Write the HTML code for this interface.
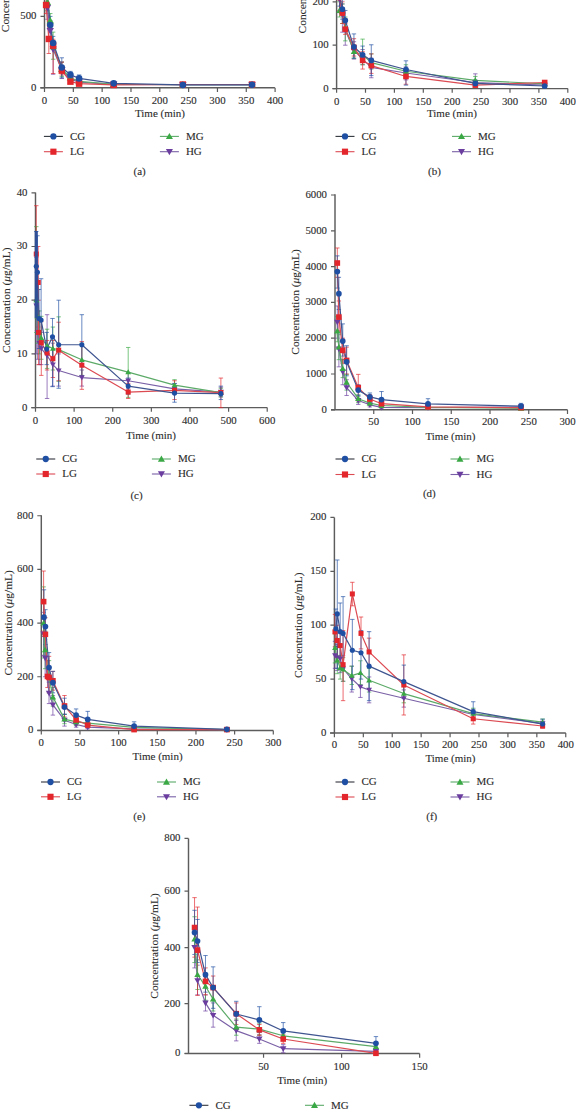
<!DOCTYPE html>
<html><head><meta charset="utf-8"><style>
html,body{margin:0;padding:0;background:#fff;}
svg{display:block;}
</style></head><body>
<svg width="576" height="1109" viewBox="0 0 576 1109">
<rect width="576" height="1109" fill="#fff"/>
<path d="M44.5 -10V87.8M40.3 87.8H274.9" stroke="#5c5c5c" stroke-width="1.45" fill="none"/>
<path d="M40.5 87.8H44.5 M40.5 16.4H44.5 M44.5 87.8V92 M73.33 87.8V92 M102.15 87.8V92 M130.98 87.8V92 M159.8 87.8V92 M188.62 87.8V92 M217.45 87.8V92 M246.28 87.8V92 M275.1 87.8V92" stroke="#5c5c5c" stroke-width="1.2" fill="none"/>
<g style="font-family:'Liberation Serif',serif;stroke:#333;stroke-width:0.12px;font-size:10.8px" fill="#2b2b2b"><text x="36.5" y="90.7" text-anchor="end">0</text><text x="36.5" y="19.3" text-anchor="end">500</text><text x="44.5" y="104.1" text-anchor="middle">0</text><text x="73.33" y="104.1" text-anchor="middle">50</text><text x="102.15" y="104.1" text-anchor="middle">100</text><text x="130.98" y="104.1" text-anchor="middle">150</text><text x="159.8" y="104.1" text-anchor="middle">200</text><text x="188.62" y="104.1" text-anchor="middle">250</text><text x="217.45" y="104.1" text-anchor="middle">300</text><text x="246.28" y="104.1" text-anchor="middle">350</text><text x="275.1" y="104.1" text-anchor="middle">400</text></g>
<g><path d="M47.38 -3.59V19.26M45.18 -3.59H49.58M45.18 19.26H49.58" stroke="#6a3d9f" stroke-width="0.9" fill="none" opacity="0.75"/><path d="M50.27 20.68V40.68M48.06 20.68H52.47M48.06 40.68H52.47" stroke="#6a3d9f" stroke-width="0.9" fill="none" opacity="0.75"/><path d="M53.15 40.68V74.23M50.95 40.68H55.35M50.95 74.23H55.35" stroke="#6a3d9f" stroke-width="0.9" fill="none" opacity="0.75"/><path d="M61.8 62.1V78.52M59.59 62.1H64M59.59 78.52H64" stroke="#6a3d9f" stroke-width="0.9" fill="none" opacity="0.75"/><path d="M70.44 76.38V81.37M68.24 76.38H72.64M68.24 81.37H72.64" stroke="#6a3d9f" stroke-width="0.9" fill="none" opacity="0.75"/><path d="M79.09 79.95V83.52M76.89 79.95H81.29M76.89 83.52H81.29" stroke="#6a3d9f" stroke-width="0.9" fill="none" opacity="0.75"/><path d="M113.68 83.52V85.23M111.48 83.52H115.88M111.48 85.23H115.88" stroke="#6a3d9f" stroke-width="0.9" fill="none" opacity="0.75"/><path d="M182.86 83.8V85.52M180.66 83.8H185.06M180.66 85.52H185.06" stroke="#6a3d9f" stroke-width="0.9" fill="none" opacity="0.75"/><path d="M252.04 83.8V85.52M249.84 83.8H254.24M249.84 85.52H254.24" stroke="#6a3d9f" stroke-width="0.9" fill="none" opacity="0.75"/><path d="M47.38 -6.45V10.69M45.18 -6.45H49.58M45.18 10.69H49.58" stroke="#3aa845" stroke-width="0.9" fill="none" opacity="0.75"/><path d="M50.27 13.54V27.82M48.06 13.54H52.47M48.06 27.82H52.47" stroke="#3aa845" stroke-width="0.9" fill="none" opacity="0.75"/><path d="M53.15 32.11V59.24M50.95 32.11H55.35M50.95 59.24H55.35" stroke="#3aa845" stroke-width="0.9" fill="none" opacity="0.75"/><path d="M61.8 62.1V76.38M59.59 62.1H64M59.59 76.38H64" stroke="#3aa845" stroke-width="0.9" fill="none" opacity="0.75"/><path d="M70.44 74.95V80.66M68.24 74.95H72.64M68.24 80.66H72.64" stroke="#3aa845" stroke-width="0.9" fill="none" opacity="0.75"/><path d="M79.09 79.23V82.8M76.89 79.23H81.29M76.89 82.8H81.29" stroke="#3aa845" stroke-width="0.9" fill="none" opacity="0.75"/><path d="M113.68 83.23V85.23M111.48 83.23H115.88M111.48 85.23H115.88" stroke="#3aa845" stroke-width="0.9" fill="none" opacity="0.75"/><path d="M182.86 83.8V85.52M180.66 83.8H185.06M180.66 85.52H185.06" stroke="#3aa845" stroke-width="0.9" fill="none" opacity="0.75"/><path d="M252.04 83.8V85.52M249.84 83.8H254.24M249.84 85.52H254.24" stroke="#3aa845" stroke-width="0.9" fill="none" opacity="0.75"/><path d="M46.11 -3.59V13.54M43.91 -3.59H48.31M43.91 13.54H48.31" stroke="#e3262b" stroke-width="0.9" fill="none" opacity="0.75"/><path d="M48.82 24.97V53.53M46.62 24.97H51.02M46.62 53.53H51.02" stroke="#e3262b" stroke-width="0.9" fill="none" opacity="0.75"/><path d="M53.15 39.25V73.52M50.95 39.25H55.35M50.95 73.52H55.35" stroke="#e3262b" stroke-width="0.9" fill="none" opacity="0.75"/><path d="M61.8 62.1V74.95M59.59 62.1H64M59.59 74.95H64" stroke="#e3262b" stroke-width="0.9" fill="none" opacity="0.75"/><path d="M70.44 79.23V83.52M68.24 79.23H72.64M68.24 83.52H72.64" stroke="#e3262b" stroke-width="0.9" fill="none" opacity="0.75"/><path d="M79.09 82.09V84.94M76.89 82.09H81.29M76.89 84.94H81.29" stroke="#e3262b" stroke-width="0.9" fill="none" opacity="0.75"/><path d="M113.68 84.09V85.66M111.48 84.09H115.88M111.48 85.66H115.88" stroke="#e3262b" stroke-width="0.9" fill="none" opacity="0.75"/><path d="M182.86 83.8V85.23M180.66 83.8H185.06M180.66 85.23H185.06" stroke="#e3262b" stroke-width="0.9" fill="none" opacity="0.75"/><path d="M252.04 83.8V85.23M249.84 83.8H254.24M249.84 85.23H254.24" stroke="#e3262b" stroke-width="0.9" fill="none" opacity="0.75"/><path d="M47.38 -15.02V4.98M45.18 -15.02H49.58M45.18 4.98H49.58" stroke="#1f4fa3" stroke-width="0.9" fill="none" opacity="0.75"/><path d="M50.27 16.4V32.11M48.06 16.4H52.47M48.06 32.11H52.47" stroke="#1f4fa3" stroke-width="0.9" fill="none" opacity="0.75"/><path d="M53.15 36.39V49.24M50.95 36.39H55.35M50.95 49.24H55.35" stroke="#1f4fa3" stroke-width="0.9" fill="none" opacity="0.75"/><path d="M61.8 57.81V77.8M59.59 57.81H64M59.59 77.8H64" stroke="#1f4fa3" stroke-width="0.9" fill="none" opacity="0.75"/><path d="M70.44 71.38V77.09M68.24 71.38H72.64M68.24 77.09H72.64" stroke="#1f4fa3" stroke-width="0.9" fill="none" opacity="0.75"/><path d="M79.09 74.95V80.66M76.89 74.95H81.29M76.89 80.66H81.29" stroke="#1f4fa3" stroke-width="0.9" fill="none" opacity="0.75"/><path d="M113.68 81.8V84.94M111.48 81.8H115.88M111.48 84.94H115.88" stroke="#1f4fa3" stroke-width="0.9" fill="none" opacity="0.75"/><path d="M182.86 83.8V85.8M180.66 83.8H185.06M180.66 85.8H185.06" stroke="#1f4fa3" stroke-width="0.9" fill="none" opacity="0.75"/><path d="M252.04 83.94V85.66M249.84 83.94H254.24M249.84 85.66H254.24" stroke="#1f4fa3" stroke-width="0.9" fill="none" opacity="0.75"/><path d="M47.38 7.83 L50.27 30.68 L53.15 49.24 L61.8 69.95 L70.44 79.23 L79.09 82.09 L113.68 84.37 L182.86 84.66 L252.04 84.66" stroke="#7a60a6" stroke-width="1.2" fill="none" stroke-linejoin="round"/><path d="M47.38 2.12 L50.27 20.68 L53.15 46.39 L61.8 69.24 L70.44 77.8 L79.09 81.37 L113.68 84.23 L182.86 84.66 L252.04 84.66" stroke="#5caa68" stroke-width="1.2" fill="none" stroke-linejoin="round"/><path d="M46.11 4.98 L48.82 38.96 L53.15 45.67 L61.8 70.66 L70.44 81.66 L79.09 83.66 L113.68 84.94 L182.86 84.52 L252.04 84.52" stroke="#dc4a52" stroke-width="1.2" fill="none" stroke-linejoin="round"/><path d="M47.38 -5.02 L50.27 24.97 L53.15 42.96 L61.8 67.52 L70.44 74.81 L79.09 78.38 L113.68 83.37 L182.86 84.94 L252.04 84.8" stroke="#3f5590" stroke-width="1.2" fill="none" stroke-linejoin="round"/><path d="M47.38 11.51L51.06 5.07L43.7 5.07Z" fill="#6a3d9f"/><path d="M50.27 34.36L53.95 27.92L46.59 27.92Z" fill="#6a3d9f"/><path d="M53.15 52.92L56.83 46.48L49.47 46.48Z" fill="#6a3d9f"/><path d="M61.8 73.63L65.47 67.19L58.12 67.19Z" fill="#6a3d9f"/><path d="M70.44 82.91L74.12 76.47L66.76 76.47Z" fill="#6a3d9f"/><path d="M79.09 85.77L82.77 79.33L75.41 79.33Z" fill="#6a3d9f"/><path d="M113.68 88.05L117.36 81.61L110 81.61Z" fill="#6a3d9f"/><path d="M182.86 88.34L186.54 81.9L179.18 81.9Z" fill="#6a3d9f"/><path d="M252.04 88.34L255.72 81.9L248.36 81.9Z" fill="#6a3d9f"/><path d="M47.38 -1.56L51.06 4.88L43.7 4.88Z" fill="#3aa845"/><path d="M50.27 17L53.95 23.44L46.59 23.44Z" fill="#3aa845"/><path d="M53.15 42.71L56.83 49.15L49.47 49.15Z" fill="#3aa845"/><path d="M61.8 65.56L65.47 72L58.12 72Z" fill="#3aa845"/><path d="M70.44 74.12L74.12 80.56L66.76 80.56Z" fill="#3aa845"/><path d="M79.09 77.69L82.77 84.13L75.41 84.13Z" fill="#3aa845"/><path d="M113.68 80.55L117.36 86.99L110 86.99Z" fill="#3aa845"/><path d="M182.86 80.98L186.54 87.42L179.18 87.42Z" fill="#3aa845"/><path d="M252.04 80.98L255.72 87.42L248.36 87.42Z" fill="#3aa845"/><rect x="42.89" y="1.76" width="6.44" height="6.44" fill="#e3262b"/><rect x="45.6" y="35.74" width="6.44" height="6.44" fill="#e3262b"/><rect x="49.93" y="42.45" width="6.44" height="6.44" fill="#e3262b"/><rect x="58.58" y="67.44" width="6.44" height="6.44" fill="#e3262b"/><rect x="67.22" y="78.44" width="6.44" height="6.44" fill="#e3262b"/><rect x="75.87" y="80.44" width="6.44" height="6.44" fill="#e3262b"/><rect x="110.46" y="81.72" width="6.44" height="6.44" fill="#e3262b"/><rect x="179.64" y="81.3" width="6.44" height="6.44" fill="#e3262b"/><rect x="248.82" y="81.3" width="6.44" height="6.44" fill="#e3262b"/><circle cx="47.38" cy="-5.02" r="3.28" fill="#1f4fa3"/><circle cx="50.27" cy="24.97" r="3.28" fill="#1f4fa3"/><circle cx="53.15" cy="42.96" r="3.28" fill="#1f4fa3"/><circle cx="61.8" cy="67.52" r="3.28" fill="#1f4fa3"/><circle cx="70.44" cy="74.81" r="3.28" fill="#1f4fa3"/><circle cx="79.09" cy="78.38" r="3.28" fill="#1f4fa3"/><circle cx="113.68" cy="83.37" r="3.28" fill="#1f4fa3"/><circle cx="182.86" cy="84.94" r="3.28" fill="#1f4fa3"/><circle cx="252.04" cy="84.8" r="3.28" fill="#1f4fa3"/></g>
<text x="160" y="117.4" text-anchor="middle" style="font-family:'Liberation Serif',serif;stroke:#333;stroke-width:0.12px;font-size:11px" fill="#2b2b2b">Time (min)</text>
<text transform="translate(8.6,-20.5) rotate(-90)" text-anchor="middle" style="font-family:'Liberation Serif',serif;stroke:#333;stroke-width:0.12px;font-size:11.4px" fill="#2b2b2b">Concentration (<tspan style="font-style:italic">μ</tspan>g/mL)</text>
<path d="M43.9 136.4H62.9" stroke="#30343c" stroke-width="1.1"/>
<circle cx="53.4" cy="136.4" r="3.14" fill="#1f4fa3"/>
<text x="69.9" y="139.6" style="font-family:'Liberation Serif',serif;stroke:#333;stroke-width:0.12px;font-size:11px" fill="#2b2b2b">CG</text>
<path d="M43.9 151.7H62.9" stroke="#dc4a52" stroke-width="1.1"/>
<rect x="50.32" y="148.62" width="6.16" height="6.16" fill="#e3262b"/>
<text x="69.9" y="154.9" style="font-family:'Liberation Serif',serif;stroke:#333;stroke-width:0.12px;font-size:11px" fill="#2b2b2b">LG</text>
<path d="M159.9 136.4H178.9" stroke="#5caa68" stroke-width="1.1"/>
<path d="M169.4 132.88L172.92 139.04L165.88 139.04Z" fill="#3aa845"/>
<text x="185.9" y="139.6" style="font-family:'Liberation Serif',serif;stroke:#333;stroke-width:0.12px;font-size:11px" fill="#2b2b2b">MG</text>
<path d="M159.9 151.7H178.9" stroke="#7a60a6" stroke-width="1.1"/>
<path d="M169.4 155.22L172.92 149.06L165.88 149.06Z" fill="#6a3d9f"/>
<text x="185.9" y="154.9" style="font-family:'Liberation Serif',serif;stroke:#333;stroke-width:0.12px;font-size:11px" fill="#2b2b2b">HG</text>
<text x="139.7" y="174.5" text-anchor="middle" style="font-family:'Liberation Serif',serif;stroke:#333;stroke-width:0.12px;font-size:11px" fill="#2b2b2b">(a)</text>
<path d="M336.6 -10V88.6M332.4 88.6H567.9" stroke="#5c5c5c" stroke-width="1.45" fill="none"/>
<path d="M332.6 88.6H336.6 M332.6 45.2H336.6 M332.6 1.8H336.6 M336.6 88.6V92.8 M365.5 88.6V92.8 M394.4 88.6V92.8 M423.3 88.6V92.8 M452.2 88.6V92.8 M481.1 88.6V92.8 M510 88.6V92.8 M538.9 88.6V92.8 M567.8 88.6V92.8" stroke="#5c5c5c" stroke-width="1.2" fill="none"/>
<g style="font-family:'Liberation Serif',serif;stroke:#333;stroke-width:0.12px;font-size:10.8px" fill="#2b2b2b"><text x="328.6" y="91.5" text-anchor="end">0</text><text x="328.6" y="48.1" text-anchor="end">100</text><text x="328.6" y="4.7" text-anchor="end">200</text><text x="336.6" y="104.5" text-anchor="middle">0</text><text x="365.5" y="104.5" text-anchor="middle">50</text><text x="394.4" y="104.5" text-anchor="middle">100</text><text x="423.3" y="104.5" text-anchor="middle">150</text><text x="452.2" y="104.5" text-anchor="middle">200</text><text x="481.1" y="104.5" text-anchor="middle">250</text><text x="510" y="104.5" text-anchor="middle">300</text><text x="538.9" y="104.5" text-anchor="middle">350</text><text x="567.8" y="104.5" text-anchor="middle">400</text></g>
<g><path d="M339.49 -13.39V12.65M337.29 -13.39H341.69M337.29 12.65H341.69" stroke="#6a3d9f" stroke-width="0.9" fill="none" opacity="0.75"/><path d="M342.38 3.97V32.18M340.18 3.97H344.58M340.18 32.18H344.58" stroke="#6a3d9f" stroke-width="0.9" fill="none" opacity="0.75"/><path d="M345.27 19.16V45.2M343.07 19.16H347.47M343.07 45.2H347.47" stroke="#6a3d9f" stroke-width="0.9" fill="none" opacity="0.75"/><path d="M353.94 41.73V59.09M351.74 41.73H356.14M351.74 59.09H356.14" stroke="#6a3d9f" stroke-width="0.9" fill="none" opacity="0.75"/><path d="M362.61 49.54V64.73M360.41 49.54H364.81M360.41 64.73H364.81" stroke="#6a3d9f" stroke-width="0.9" fill="none" opacity="0.75"/><path d="M371.28 58.22V77.75M369.08 58.22H373.48M369.08 77.75H373.48" stroke="#6a3d9f" stroke-width="0.9" fill="none" opacity="0.75"/><path d="M405.96 66.9V79.92M403.76 66.9H408.16M403.76 79.92H408.16" stroke="#6a3d9f" stroke-width="0.9" fill="none" opacity="0.75"/><path d="M475.32 73.84V86.43M473.12 73.84H477.52M473.12 86.43H477.52" stroke="#6a3d9f" stroke-width="0.9" fill="none" opacity="0.75"/><path d="M544.68 83.39V86.43M542.48 83.39H546.88M542.48 86.43H546.88" stroke="#6a3d9f" stroke-width="0.9" fill="none" opacity="0.75"/><path d="M339.49 1.8V16.99M337.29 1.8H341.69M337.29 16.99H341.69" stroke="#3aa845" stroke-width="0.9" fill="none" opacity="0.75"/><path d="M342.38 3.97V23.5M340.18 3.97H344.58M340.18 23.5H344.58" stroke="#3aa845" stroke-width="0.9" fill="none" opacity="0.75"/><path d="M345.27 16.99V40.86M343.07 16.99H347.47M343.07 40.86H347.47" stroke="#3aa845" stroke-width="0.9" fill="none" opacity="0.75"/><path d="M353.94 45.2V58.22M351.74 45.2H356.14M351.74 58.22H356.14" stroke="#3aa845" stroke-width="0.9" fill="none" opacity="0.75"/><path d="M362.61 39.12V64.73M360.41 39.12H364.81M360.41 64.73H364.81" stroke="#3aa845" stroke-width="0.9" fill="none" opacity="0.75"/><path d="M371.28 53.88V69.07M369.08 53.88H373.48M369.08 69.07H373.48" stroke="#3aa845" stroke-width="0.9" fill="none" opacity="0.75"/><path d="M405.96 64.73V77.75M403.76 64.73H408.16M403.76 77.75H408.16" stroke="#3aa845" stroke-width="0.9" fill="none" opacity="0.75"/><path d="M475.32 76.45V84.26M473.12 76.45H477.52M473.12 84.26H477.52" stroke="#3aa845" stroke-width="0.9" fill="none" opacity="0.75"/><path d="M544.68 82.09V85.56M542.48 82.09H546.88M542.48 85.56H546.88" stroke="#3aa845" stroke-width="0.9" fill="none" opacity="0.75"/><path d="M339.49 -13.39V10.48M337.29 -13.39H341.69M337.29 10.48H341.69" stroke="#e3262b" stroke-width="0.9" fill="none" opacity="0.75"/><path d="M342.38 1.8V23.5M340.18 1.8H344.58M340.18 23.5H344.58" stroke="#e3262b" stroke-width="0.9" fill="none" opacity="0.75"/><path d="M345.27 23.5V34.35M343.07 23.5H347.47M343.07 34.35H347.47" stroke="#e3262b" stroke-width="0.9" fill="none" opacity="0.75"/><path d="M353.94 38.69V56.05M351.74 38.69H356.14M351.74 56.05H356.14" stroke="#e3262b" stroke-width="0.9" fill="none" opacity="0.75"/><path d="M362.61 51.71V69.07M360.41 51.71H364.81M360.41 69.07H364.81" stroke="#e3262b" stroke-width="0.9" fill="none" opacity="0.75"/><path d="M371.28 53.88V73.41M369.08 53.88H373.48M369.08 73.41H373.48" stroke="#e3262b" stroke-width="0.9" fill="none" opacity="0.75"/><path d="M405.96 69.07V84.26M403.76 69.07H408.16M403.76 84.26H408.16" stroke="#e3262b" stroke-width="0.9" fill="none" opacity="0.75"/><path d="M475.32 82.52V86.86M473.12 82.52H477.52M473.12 86.86H477.52" stroke="#e3262b" stroke-width="0.9" fill="none" opacity="0.75"/><path d="M544.68 80.79V84.69M542.48 80.79H546.88M542.48 84.69H546.88" stroke="#e3262b" stroke-width="0.9" fill="none" opacity="0.75"/><path d="M339.49 -15.56V6.14M337.29 -15.56H341.69M337.29 6.14H341.69" stroke="#1f4fa3" stroke-width="0.9" fill="none" opacity="0.75"/><path d="M342.38 -0.37V19.16M340.18 -0.37H344.58M340.18 19.16H344.58" stroke="#1f4fa3" stroke-width="0.9" fill="none" opacity="0.75"/><path d="M345.27 10.48V30.01M343.07 10.48H347.47M343.07 30.01H347.47" stroke="#1f4fa3" stroke-width="0.9" fill="none" opacity="0.75"/><path d="M353.94 33.92V58.22M351.74 33.92H356.14M351.74 58.22H356.14" stroke="#1f4fa3" stroke-width="0.9" fill="none" opacity="0.75"/><path d="M362.61 46.07V62.56M360.41 46.07H364.81M360.41 62.56H364.81" stroke="#1f4fa3" stroke-width="0.9" fill="none" opacity="0.75"/><path d="M371.28 44.77V75.58M369.08 44.77H373.48M369.08 75.58H373.48" stroke="#1f4fa3" stroke-width="0.9" fill="none" opacity="0.75"/><path d="M405.96 60.82V85.13M403.76 60.82H408.16M403.76 85.13H408.16" stroke="#1f4fa3" stroke-width="0.9" fill="none" opacity="0.75"/><path d="M475.32 79.92V86.43M473.12 79.92H477.52M473.12 86.43H477.52" stroke="#1f4fa3" stroke-width="0.9" fill="none" opacity="0.75"/><path d="M544.68 84.26V87.3M542.48 84.26H546.88M542.48 87.3H546.88" stroke="#1f4fa3" stroke-width="0.9" fill="none" opacity="0.75"/><path d="M339.49 -0.37 L342.38 14.82 L345.27 30.01 L353.94 50.41 L362.61 59.09 L371.28 67.33 L405.96 72.98 L475.32 82.52 L544.68 85.13" stroke="#7a60a6" stroke-width="1.2" fill="none" stroke-linejoin="round"/><path d="M339.49 10.48 L342.38 11.35 L345.27 27.84 L353.94 51.71 L362.61 54.75 L371.28 62.56 L405.96 71.24 L475.32 80.35 L544.68 83.83" stroke="#5caa68" stroke-width="1.2" fill="none" stroke-linejoin="round"/><path d="M339.49 -2.54 L342.38 13.08 L345.27 29.14 L353.94 47.37 L362.61 60.39 L371.28 65.6 L405.96 76.45 L475.32 85.13 L544.68 82.52" stroke="#dc4a52" stroke-width="1.2" fill="none" stroke-linejoin="round"/><path d="M339.49 -4.71 L342.38 9.18 L345.27 20.46 L353.94 46.94 L362.61 54.75 L371.28 60.39 L405.96 69.5 L475.32 83.39 L544.68 86" stroke="#3f5590" stroke-width="1.2" fill="none" stroke-linejoin="round"/><path d="M339.49 2.83L342.69 -2.77L336.29 -2.77Z" fill="#6a3d9f"/><path d="M342.38 18.02L345.58 12.42L339.18 12.42Z" fill="#6a3d9f"/><path d="M345.27 33.21L348.47 27.61L342.07 27.61Z" fill="#6a3d9f"/><path d="M353.94 53.61L357.14 48.01L350.74 48.01Z" fill="#6a3d9f"/><path d="M362.61 62.29L365.81 56.69L359.41 56.69Z" fill="#6a3d9f"/><path d="M371.28 70.53L374.48 64.93L368.08 64.93Z" fill="#6a3d9f"/><path d="M405.96 76.18L409.16 70.58L402.76 70.58Z" fill="#6a3d9f"/><path d="M475.32 85.72L478.52 80.12L472.12 80.12Z" fill="#6a3d9f"/><path d="M544.68 88.33L547.88 82.73L541.48 82.73Z" fill="#6a3d9f"/><path d="M339.49 7.28L342.69 12.88L336.29 12.88Z" fill="#3aa845"/><path d="M342.38 8.15L345.58 13.75L339.18 13.75Z" fill="#3aa845"/><path d="M345.27 24.64L348.47 30.24L342.07 30.24Z" fill="#3aa845"/><path d="M353.94 48.51L357.14 54.11L350.74 54.11Z" fill="#3aa845"/><path d="M362.61 51.55L365.81 57.15L359.41 57.15Z" fill="#3aa845"/><path d="M371.28 59.36L374.48 64.96L368.08 64.96Z" fill="#3aa845"/><path d="M405.96 68.04L409.16 73.64L402.76 73.64Z" fill="#3aa845"/><path d="M475.32 77.15L478.52 82.75L472.12 82.75Z" fill="#3aa845"/><path d="M544.68 80.63L547.88 86.23L541.48 86.23Z" fill="#3aa845"/><rect x="336.69" y="-5.34" width="5.6" height="5.6" fill="#e3262b"/><rect x="339.58" y="10.28" width="5.6" height="5.6" fill="#e3262b"/><rect x="342.47" y="26.34" width="5.6" height="5.6" fill="#e3262b"/><rect x="351.14" y="44.57" width="5.6" height="5.6" fill="#e3262b"/><rect x="359.81" y="57.59" width="5.6" height="5.6" fill="#e3262b"/><rect x="368.48" y="62.8" width="5.6" height="5.6" fill="#e3262b"/><rect x="403.16" y="73.65" width="5.6" height="5.6" fill="#e3262b"/><rect x="472.52" y="82.33" width="5.6" height="5.6" fill="#e3262b"/><rect x="541.88" y="79.72" width="5.6" height="5.6" fill="#e3262b"/><circle cx="339.49" cy="-4.71" r="2.85" fill="#1f4fa3"/><circle cx="342.38" cy="9.18" r="2.85" fill="#1f4fa3"/><circle cx="345.27" cy="20.46" r="2.85" fill="#1f4fa3"/><circle cx="353.94" cy="46.94" r="2.85" fill="#1f4fa3"/><circle cx="362.61" cy="54.75" r="2.85" fill="#1f4fa3"/><circle cx="371.28" cy="60.39" r="2.85" fill="#1f4fa3"/><circle cx="405.96" cy="69.5" r="2.85" fill="#1f4fa3"/><circle cx="475.32" cy="83.39" r="2.85" fill="#1f4fa3"/><circle cx="544.68" cy="86" r="2.85" fill="#1f4fa3"/></g>
<text x="452" y="117.4" text-anchor="middle" style="font-family:'Liberation Serif',serif;stroke:#333;stroke-width:0.12px;font-size:11px" fill="#2b2b2b">Time (min)</text>
<text transform="translate(305.6,-19.3) rotate(-90)" text-anchor="middle" style="font-family:'Liberation Serif',serif;stroke:#333;stroke-width:0.12px;font-size:11.4px" fill="#2b2b2b">Concentration (<tspan style="font-style:italic">μ</tspan>g/mL)</text>
<path d="M335.5 136.4H354.5" stroke="#30343c" stroke-width="1.1"/>
<circle cx="345" cy="136.4" r="3.14" fill="#1f4fa3"/>
<text x="361.5" y="139.6" style="font-family:'Liberation Serif',serif;stroke:#333;stroke-width:0.12px;font-size:11px" fill="#2b2b2b">CG</text>
<path d="M335.5 151.7H354.5" stroke="#dc4a52" stroke-width="1.1"/>
<rect x="341.92" y="148.62" width="6.16" height="6.16" fill="#e3262b"/>
<text x="361.5" y="154.9" style="font-family:'Liberation Serif',serif;stroke:#333;stroke-width:0.12px;font-size:11px" fill="#2b2b2b">LG</text>
<path d="M452 136.4H471" stroke="#5caa68" stroke-width="1.1"/>
<path d="M461.5 132.88L465.02 139.04L457.98 139.04Z" fill="#3aa845"/>
<text x="478" y="139.6" style="font-family:'Liberation Serif',serif;stroke:#333;stroke-width:0.12px;font-size:11px" fill="#2b2b2b">MG</text>
<path d="M452 151.7H471" stroke="#7a60a6" stroke-width="1.1"/>
<path d="M461.5 155.22L465.02 149.06L457.98 149.06Z" fill="#6a3d9f"/>
<text x="478" y="154.9" style="font-family:'Liberation Serif',serif;stroke:#333;stroke-width:0.12px;font-size:11px" fill="#2b2b2b">HG</text>
<text x="434.5" y="174.5" text-anchor="middle" style="font-family:'Liberation Serif',serif;stroke:#333;stroke-width:0.12px;font-size:11px" fill="#2b2b2b">(b)</text>
<path d="M35.5 192.5V407.6M31.3 407.6H267.2" stroke="#5c5c5c" stroke-width="1.45" fill="none"/>
<path d="M31.5 407.6H35.5 M31.5 353.9H35.5 M31.5 300.2H35.5 M31.5 246.5H35.5 M31.5 192.8H35.5 M35.5 407.6V411.8 M74.12 407.6V411.8 M112.74 407.6V411.8 M151.36 407.6V411.8 M189.98 407.6V411.8 M228.6 407.6V411.8 M267.22 407.6V411.8" stroke="#5c5c5c" stroke-width="1.2" fill="none"/>
<g style="font-family:'Liberation Serif',serif;stroke:#333;stroke-width:0.12px;font-size:10.8px" fill="#2b2b2b"><text x="27.5" y="410.5" text-anchor="end">0</text><text x="27.5" y="356.8" text-anchor="end">10</text><text x="27.5" y="303.1" text-anchor="end">20</text><text x="27.5" y="249.4" text-anchor="end">30</text><text x="27.5" y="195.7" text-anchor="end">40</text><text x="35.5" y="423.5" text-anchor="middle">0</text><text x="74.12" y="423.5" text-anchor="middle">100</text><text x="112.74" y="423.5" text-anchor="middle">200</text><text x="151.36" y="423.5" text-anchor="middle">300</text><text x="189.98" y="423.5" text-anchor="middle">400</text><text x="228.6" y="423.5" text-anchor="middle">500</text><text x="267.22" y="423.5" text-anchor="middle">600</text></g>
<g><path d="M36.27 257.24V353.9M34.07 257.24H38.47M34.07 353.9H38.47" stroke="#6a3d9f" stroke-width="0.9" fill="none" opacity="0.75"/><path d="M37.43 310.94V359.27M35.23 310.94H39.63M35.23 359.27H39.63" stroke="#6a3d9f" stroke-width="0.9" fill="none" opacity="0.75"/><path d="M39.36 321.68V364.64M37.16 321.68H41.56M37.16 364.64H41.56" stroke="#6a3d9f" stroke-width="0.9" fill="none" opacity="0.75"/><path d="M41.29 332.42V364.64M39.09 332.42H43.49M39.09 364.64H43.49" stroke="#6a3d9f" stroke-width="0.9" fill="none" opacity="0.75"/><path d="M47.09 314.7V398.47M44.89 314.7H49.29M44.89 398.47H49.29" stroke="#6a3d9f" stroke-width="0.9" fill="none" opacity="0.75"/><path d="M52.88 343.16V386.12M50.68 343.16H55.08M50.68 386.12H55.08" stroke="#6a3d9f" stroke-width="0.9" fill="none" opacity="0.75"/><path d="M58.67 353.9V386.12M56.47 353.9H60.87M56.47 386.12H60.87" stroke="#6a3d9f" stroke-width="0.9" fill="none" opacity="0.75"/><path d="M81.84 370.01V386.12M79.64 370.01H84.04M79.64 386.12H84.04" stroke="#6a3d9f" stroke-width="0.9" fill="none" opacity="0.75"/><path d="M128.19 372.7V388.81M125.99 372.7H130.39M125.99 388.81H130.39" stroke="#6a3d9f" stroke-width="0.9" fill="none" opacity="0.75"/><path d="M174.53 383.44V394.18M172.33 383.44H176.73M172.33 394.18H176.73" stroke="#6a3d9f" stroke-width="0.9" fill="none" opacity="0.75"/><path d="M220.88 387.19V396.86M218.68 387.19H223.08M218.68 396.86H223.08" stroke="#6a3d9f" stroke-width="0.9" fill="none" opacity="0.75"/><path d="M36.27 226.63V332.42M34.07 226.63H38.47M34.07 332.42H38.47" stroke="#3aa845" stroke-width="0.9" fill="none" opacity="0.75"/><path d="M37.43 289.46V343.16M35.23 289.46H39.63M35.23 343.16H39.63" stroke="#3aa845" stroke-width="0.9" fill="none" opacity="0.75"/><path d="M39.36 310.94V353.9M37.16 310.94H41.56M37.16 353.9H41.56" stroke="#3aa845" stroke-width="0.9" fill="none" opacity="0.75"/><path d="M41.29 316.31V359.27M39.09 316.31H43.49M39.09 359.27H43.49" stroke="#3aa845" stroke-width="0.9" fill="none" opacity="0.75"/><path d="M47.09 329.2V368.4M44.89 329.2H49.29M44.89 368.4H49.29" stroke="#3aa845" stroke-width="0.9" fill="none" opacity="0.75"/><path d="M52.88 327.05V370.01M50.68 327.05H55.08M50.68 370.01H55.08" stroke="#3aa845" stroke-width="0.9" fill="none" opacity="0.75"/><path d="M58.67 316.85V381.29M56.47 316.85H60.87M56.47 381.29H60.87" stroke="#3aa845" stroke-width="0.9" fill="none" opacity="0.75"/><path d="M81.84 343.16V375.38M79.64 343.16H84.04M79.64 375.38H84.04" stroke="#3aa845" stroke-width="0.9" fill="none" opacity="0.75"/><path d="M128.19 347.46V397.4M125.99 347.46H130.39M125.99 397.4H130.39" stroke="#3aa845" stroke-width="0.9" fill="none" opacity="0.75"/><path d="M174.53 379.68V391.49M172.33 379.68H176.73M172.33 391.49H176.73" stroke="#3aa845" stroke-width="0.9" fill="none" opacity="0.75"/><path d="M220.88 388.27V396.86M218.68 388.27H223.08M218.68 396.86H223.08" stroke="#3aa845" stroke-width="0.9" fill="none" opacity="0.75"/><path d="M36.27 205.69V300.2M34.07 205.69H38.47M34.07 300.2H38.47" stroke="#e3262b" stroke-width="0.9" fill="none" opacity="0.75"/><path d="M38.2 246.5V327.05M36 246.5H40.4M36 327.05H40.4" stroke="#e3262b" stroke-width="0.9" fill="none" opacity="0.75"/><path d="M38.59 300.2V364.64M36.39 300.2H40.79M36.39 364.64H40.79" stroke="#e3262b" stroke-width="0.9" fill="none" opacity="0.75"/><path d="M41.29 321.68V375.38M39.09 321.68H43.49M39.09 375.38H43.49" stroke="#e3262b" stroke-width="0.9" fill="none" opacity="0.75"/><path d="M47.09 340.48V370.01M44.89 340.48H49.29M44.89 370.01H49.29" stroke="#e3262b" stroke-width="0.9" fill="none" opacity="0.75"/><path d="M52.88 340.48V377.53M50.68 340.48H55.08M50.68 377.53H55.08" stroke="#e3262b" stroke-width="0.9" fill="none" opacity="0.75"/><path d="M58.67 322.22V380.75M56.47 322.22H60.87M56.47 380.75H60.87" stroke="#e3262b" stroke-width="0.9" fill="none" opacity="0.75"/><path d="M81.84 341.55V389.34M79.64 341.55H84.04M79.64 389.34H84.04" stroke="#e3262b" stroke-width="0.9" fill="none" opacity="0.75"/><path d="M128.19 383.44V398.47M125.99 383.44H130.39M125.99 398.47H130.39" stroke="#e3262b" stroke-width="0.9" fill="none" opacity="0.75"/><path d="M174.53 380.75V399.55M172.33 380.75H176.73M172.33 399.55H176.73" stroke="#e3262b" stroke-width="0.9" fill="none" opacity="0.75"/><path d="M220.88 378.06V407.6M218.68 378.06H223.08M218.68 407.6H223.08" stroke="#e3262b" stroke-width="0.9" fill="none" opacity="0.75"/><path d="M36.27 231.46V300.2M34.07 231.46H38.47M34.07 300.2H38.47" stroke="#1f4fa3" stroke-width="0.9" fill="none" opacity="0.75"/><path d="M37.43 235.76V310.94M35.23 235.76H39.63M35.23 310.94H39.63" stroke="#1f4fa3" stroke-width="0.9" fill="none" opacity="0.75"/><path d="M38.98 289.46V348.53M36.78 289.46H41.18M36.78 348.53H41.18" stroke="#1f4fa3" stroke-width="0.9" fill="none" opacity="0.75"/><path d="M41.1 278.72V343.16M38.9 278.72H43.3M38.9 343.16H43.3" stroke="#1f4fa3" stroke-width="0.9" fill="none" opacity="0.75"/><path d="M46.7 332.42V364.64M44.5 332.42H48.9M44.5 364.64H48.9" stroke="#1f4fa3" stroke-width="0.9" fill="none" opacity="0.75"/><path d="M52.49 318.46V386.66M50.29 318.46H54.69M50.29 386.66H54.69" stroke="#1f4fa3" stroke-width="0.9" fill="none" opacity="0.75"/><path d="M58.67 300.2V388.27M56.47 300.2H60.87M56.47 388.27H60.87" stroke="#1f4fa3" stroke-width="0.9" fill="none" opacity="0.75"/><path d="M81.84 314.7V375.92M79.64 314.7H84.04M79.64 375.92H84.04" stroke="#1f4fa3" stroke-width="0.9" fill="none" opacity="0.75"/><path d="M128.19 378.06V394.18M125.99 378.06H130.39M125.99 394.18H130.39" stroke="#1f4fa3" stroke-width="0.9" fill="none" opacity="0.75"/><path d="M174.53 383.44V402.23M172.33 383.44H176.73M172.33 402.23H176.73" stroke="#1f4fa3" stroke-width="0.9" fill="none" opacity="0.75"/><path d="M220.88 386.12V399.55M218.68 386.12H223.08M218.68 399.55H223.08" stroke="#1f4fa3" stroke-width="0.9" fill="none" opacity="0.75"/><path d="M36.27 305.57 L37.43 332.42 L39.36 343.16 L41.29 348.53 L47.09 355.51 L52.88 364.64 L58.67 370.55 L81.84 377.53 L128.19 380.75 L174.53 388.81 L220.88 392.03" stroke="#7a60a6" stroke-width="1.2" fill="none" stroke-linejoin="round"/><path d="M36.27 300.2 L37.43 316.31 L39.36 332.42 L41.29 337.79 L47.09 345.85 L52.88 348.53 L58.67 349.6 L81.84 359.81 L128.19 372.16 L174.53 385.05 L220.88 392.56" stroke="#5caa68" stroke-width="1.2" fill="none" stroke-linejoin="round"/><path d="M36.27 254.02 L38.2 282.48 L38.59 332.42 L41.29 342.62 L47.09 352.83 L52.88 358.73 L58.67 350.14 L81.84 365.18 L128.19 392.03 L174.53 390.42 L220.88 392.56" stroke="#dc4a52" stroke-width="1.2" fill="none" stroke-linejoin="round"/><path d="M36.27 266.37 L37.43 272.28 L38.98 318.46 L41.1 320.07 L46.7 349.07 L52.49 336.72 L58.67 344.77 L81.84 344.77 L128.19 386.12 L174.53 393.1 L220.88 393.64" stroke="#3f5590" stroke-width="1.2" fill="none" stroke-linejoin="round"/><path d="M36.27 308.45L39.15 303.41L33.39 303.41Z" fill="#6a3d9f"/><path d="M37.43 335.3L40.31 330.26L34.55 330.26Z" fill="#6a3d9f"/><path d="M39.36 346.04L42.24 341L36.48 341Z" fill="#6a3d9f"/><path d="M41.29 351.41L44.17 346.37L38.41 346.37Z" fill="#6a3d9f"/><path d="M47.09 358.39L49.97 353.35L44.21 353.35Z" fill="#6a3d9f"/><path d="M52.88 367.52L55.76 362.48L50 362.48Z" fill="#6a3d9f"/><path d="M58.67 373.43L61.55 368.39L55.79 368.39Z" fill="#6a3d9f"/><path d="M81.84 380.41L84.72 375.37L78.96 375.37Z" fill="#6a3d9f"/><path d="M128.19 383.63L131.07 378.59L125.31 378.59Z" fill="#6a3d9f"/><path d="M174.53 391.69L177.41 386.64L171.65 386.64Z" fill="#6a3d9f"/><path d="M220.88 394.91L223.76 389.87L218 389.87Z" fill="#6a3d9f"/><path d="M36.27 297.32L39.15 302.36L33.39 302.36Z" fill="#3aa845"/><path d="M37.43 313.43L40.31 318.47L34.55 318.47Z" fill="#3aa845"/><path d="M39.36 329.54L42.24 334.58L36.48 334.58Z" fill="#3aa845"/><path d="M41.29 334.91L44.17 339.95L38.41 339.95Z" fill="#3aa845"/><path d="M47.09 342.97L49.97 348.01L44.21 348.01Z" fill="#3aa845"/><path d="M52.88 345.65L55.76 350.69L50 350.69Z" fill="#3aa845"/><path d="M58.67 346.72L61.55 351.76L55.79 351.76Z" fill="#3aa845"/><path d="M81.84 356.93L84.72 361.97L78.96 361.97Z" fill="#3aa845"/><path d="M128.19 369.28L131.07 374.32L125.31 374.32Z" fill="#3aa845"/><path d="M174.53 382.17L177.41 387.21L171.65 387.21Z" fill="#3aa845"/><path d="M220.88 389.68L223.76 394.72L218 394.72Z" fill="#3aa845"/><rect x="33.75" y="251.5" width="5.04" height="5.04" fill="#e3262b"/><rect x="35.68" y="279.96" width="5.04" height="5.04" fill="#e3262b"/><rect x="36.07" y="329.9" width="5.04" height="5.04" fill="#e3262b"/><rect x="38.77" y="340.1" width="5.04" height="5.04" fill="#e3262b"/><rect x="44.57" y="350.31" width="5.04" height="5.04" fill="#e3262b"/><rect x="50.36" y="356.21" width="5.04" height="5.04" fill="#e3262b"/><rect x="56.15" y="347.62" width="5.04" height="5.04" fill="#e3262b"/><rect x="79.32" y="362.66" width="5.04" height="5.04" fill="#e3262b"/><rect x="125.67" y="389.51" width="5.04" height="5.04" fill="#e3262b"/><rect x="172.01" y="387.9" width="5.04" height="5.04" fill="#e3262b"/><rect x="218.36" y="390.04" width="5.04" height="5.04" fill="#e3262b"/><circle cx="36.27" cy="266.37" r="2.56" fill="#1f4fa3"/><circle cx="37.43" cy="272.28" r="2.56" fill="#1f4fa3"/><circle cx="38.98" cy="318.46" r="2.56" fill="#1f4fa3"/><circle cx="41.1" cy="320.07" r="2.56" fill="#1f4fa3"/><circle cx="46.7" cy="349.07" r="2.56" fill="#1f4fa3"/><circle cx="52.49" cy="336.72" r="2.56" fill="#1f4fa3"/><circle cx="58.67" cy="344.77" r="2.56" fill="#1f4fa3"/><circle cx="81.84" cy="344.77" r="2.56" fill="#1f4fa3"/><circle cx="128.19" cy="386.12" r="2.56" fill="#1f4fa3"/><circle cx="174.53" cy="393.1" r="2.56" fill="#1f4fa3"/><circle cx="220.88" cy="393.64" r="2.56" fill="#1f4fa3"/></g>
<path d="M36.3 231V318" stroke="#2a4e9a" stroke-width="3.2" opacity="0.9"/>
<text x="151" y="438.5" text-anchor="middle" style="font-family:'Liberation Serif',serif;stroke:#333;stroke-width:0.12px;font-size:11px" fill="#2b2b2b">Time (min)</text>
<text transform="translate(10,300.2) rotate(-90)" text-anchor="middle" style="font-family:'Liberation Serif',serif;stroke:#333;stroke-width:0.12px;font-size:11.4px" fill="#2b2b2b">Concentration (<tspan style="font-style:italic">μ</tspan>g/mL)</text>
<path d="M36.25 459H55.25" stroke="#30343c" stroke-width="1.1"/>
<circle cx="45.75" cy="459" r="3.14" fill="#1f4fa3"/>
<text x="62.25" y="462.2" style="font-family:'Liberation Serif',serif;stroke:#333;stroke-width:0.12px;font-size:11px" fill="#2b2b2b">CG</text>
<path d="M36.25 474H55.25" stroke="#dc4a52" stroke-width="1.1"/>
<rect x="42.67" y="470.92" width="6.16" height="6.16" fill="#e3262b"/>
<text x="62.25" y="477.2" style="font-family:'Liberation Serif',serif;stroke:#333;stroke-width:0.12px;font-size:11px" fill="#2b2b2b">LG</text>
<path d="M151.9 459H170.9" stroke="#5caa68" stroke-width="1.1"/>
<path d="M161.4 455.48L164.92 461.64L157.88 461.64Z" fill="#3aa845"/>
<text x="177.9" y="462.2" style="font-family:'Liberation Serif',serif;stroke:#333;stroke-width:0.12px;font-size:11px" fill="#2b2b2b">MG</text>
<path d="M151.9 474H170.9" stroke="#7a60a6" stroke-width="1.1"/>
<path d="M161.4 477.52L164.92 471.36L157.88 471.36Z" fill="#6a3d9f"/>
<text x="177.9" y="477.2" style="font-family:'Liberation Serif',serif;stroke:#333;stroke-width:0.12px;font-size:11px" fill="#2b2b2b">HG</text>
<text x="136.5" y="498.5" text-anchor="middle" style="font-family:'Liberation Serif',serif;stroke:#333;stroke-width:0.12px;font-size:11px" fill="#2b2b2b">(c)</text>
<path d="M335 194.2V409.8M331 409.8H567.5" stroke="#5c5c5c" stroke-width="1.45" fill="none"/>
<path d="M331 409.8H335 M331 374H335 M331 338.2H335 M331 302.4H335 M331 266.6H335 M331 230.8H335 M331 195H335 M373.75 409.8V414 M412.5 409.8V414 M451.25 409.8V414 M490 409.8V414 M528.75 409.8V414 M567.5 409.8V414" stroke="#5c5c5c" stroke-width="1.2" fill="none"/>
<g style="font-family:'Liberation Serif',serif;stroke:#333;stroke-width:0.12px;font-size:10.8px" fill="#2b2b2b"><text x="327" y="412.7" text-anchor="end">0</text><text x="327" y="376.9" text-anchor="end">1000</text><text x="327" y="341.1" text-anchor="end">2000</text><text x="327" y="305.3" text-anchor="end">3000</text><text x="327" y="269.5" text-anchor="end">4000</text><text x="327" y="233.7" text-anchor="end">5000</text><text x="327" y="197.9" text-anchor="end">6000</text><text x="373.75" y="425.1" text-anchor="middle">50</text><text x="412.5" y="425.1" text-anchor="middle">100</text><text x="451.25" y="425.1" text-anchor="middle">150</text><text x="490" y="425.1" text-anchor="middle">200</text><text x="528.75" y="425.1" text-anchor="middle">250</text><text x="567.5" y="425.1" text-anchor="middle">300</text></g>
<g><path d="M337.32 305.98V338.2M335.12 305.98H339.52M335.12 338.2H339.52" stroke="#6a3d9f" stroke-width="0.9" fill="none" opacity="0.75"/><path d="M338.88 331.04V366.84M336.68 331.04H341.07M336.68 366.84H341.07" stroke="#6a3d9f" stroke-width="0.9" fill="none" opacity="0.75"/><path d="M342.75 359.68V384.74M340.55 359.68H344.95M340.55 384.74H344.95" stroke="#6a3d9f" stroke-width="0.9" fill="none" opacity="0.75"/><path d="M346.62 379.73V395.48M344.43 379.73H348.82M344.43 395.48H348.82" stroke="#6a3d9f" stroke-width="0.9" fill="none" opacity="0.75"/><path d="M358.25 396.55V404.43M356.05 396.55H360.45M356.05 404.43H360.45" stroke="#6a3d9f" stroke-width="0.9" fill="none" opacity="0.75"/><path d="M369.88 402.64V406.94M367.68 402.64H372.07M367.68 406.94H372.07" stroke="#6a3d9f" stroke-width="0.9" fill="none" opacity="0.75"/><path d="M381.5 405.86V408.73M379.3 405.86H383.7M379.3 408.73H383.7" stroke="#6a3d9f" stroke-width="0.9" fill="none" opacity="0.75"/><path d="M428 406.58V408.73M425.8 406.58H430.2M425.8 408.73H430.2" stroke="#6a3d9f" stroke-width="0.9" fill="none" opacity="0.75"/><path d="M521 405.5V408.37M518.8 405.5H523.2M518.8 408.37H523.2" stroke="#6a3d9f" stroke-width="0.9" fill="none" opacity="0.75"/><path d="M337.32 316.72V341.78M335.12 316.72H339.52M335.12 341.78H339.52" stroke="#3aa845" stroke-width="0.9" fill="none" opacity="0.75"/><path d="M338.88 334.62V359.68M336.68 334.62H341.07M336.68 359.68H341.07" stroke="#3aa845" stroke-width="0.9" fill="none" opacity="0.75"/><path d="M342.75 359.68V377.58M340.55 359.68H344.95M340.55 377.58H344.95" stroke="#3aa845" stroke-width="0.9" fill="none" opacity="0.75"/><path d="M346.62 374.36V390.11M344.43 374.36H348.82M344.43 390.11H348.82" stroke="#3aa845" stroke-width="0.9" fill="none" opacity="0.75"/><path d="M358.25 394.76V402.64M356.05 394.76H360.45M356.05 402.64H360.45" stroke="#3aa845" stroke-width="0.9" fill="none" opacity="0.75"/><path d="M369.88 400.85V405.5M367.68 400.85H372.07M367.68 405.5H372.07" stroke="#3aa845" stroke-width="0.9" fill="none" opacity="0.75"/><path d="M381.5 403.71V407.29M379.3 403.71H383.7M379.3 407.29H383.7" stroke="#3aa845" stroke-width="0.9" fill="none" opacity="0.75"/><path d="M428 406.22V408.37M425.8 406.22H430.2M425.8 408.37H430.2" stroke="#3aa845" stroke-width="0.9" fill="none" opacity="0.75"/><path d="M521 407.65V409.08M518.8 407.65H523.2M518.8 409.08H523.2" stroke="#3aa845" stroke-width="0.9" fill="none" opacity="0.75"/><path d="M337.32 247.98V277.34M335.12 247.98H339.52M335.12 277.34H339.52" stroke="#e3262b" stroke-width="0.9" fill="none" opacity="0.75"/><path d="M338.88 300.97V331.04M336.68 300.97H341.07M336.68 331.04H341.07" stroke="#e3262b" stroke-width="0.9" fill="none" opacity="0.75"/><path d="M342.75 338.2V363.26M340.55 338.2H344.95M340.55 363.26H344.95" stroke="#e3262b" stroke-width="0.9" fill="none" opacity="0.75"/><path d="M346.62 347.15V374M344.43 347.15H348.82M344.43 374H348.82" stroke="#e3262b" stroke-width="0.9" fill="none" opacity="0.75"/><path d="M358.25 374.36V400.85M356.05 374.36H360.45M356.05 400.85H360.45" stroke="#e3262b" stroke-width="0.9" fill="none" opacity="0.75"/><path d="M369.88 394.76V403.36M367.68 394.76H372.07M367.68 403.36H372.07" stroke="#e3262b" stroke-width="0.9" fill="none" opacity="0.75"/><path d="M381.5 400.85V406.22M379.3 400.85H383.7M379.3 406.22H383.7" stroke="#e3262b" stroke-width="0.9" fill="none" opacity="0.75"/><path d="M428 405.15V408.37M425.8 405.15H430.2M425.8 408.37H430.2" stroke="#e3262b" stroke-width="0.9" fill="none" opacity="0.75"/><path d="M521 406.58V408.73M518.8 406.58H523.2M518.8 408.73H523.2" stroke="#e3262b" stroke-width="0.9" fill="none" opacity="0.75"/><path d="M337.32 255.86V288.08M335.12 255.86H339.52M335.12 288.08H339.52" stroke="#1f4fa3" stroke-width="0.9" fill="none" opacity="0.75"/><path d="M338.88 277.34V309.56M336.68 277.34H341.07M336.68 309.56H341.07" stroke="#1f4fa3" stroke-width="0.9" fill="none" opacity="0.75"/><path d="M342.75 323.88V356.1M340.55 323.88H344.95M340.55 356.1H344.95" stroke="#1f4fa3" stroke-width="0.9" fill="none" opacity="0.75"/><path d="M346.62 345.72V375.79M344.43 345.72H348.82M344.43 375.79H348.82" stroke="#1f4fa3" stroke-width="0.9" fill="none" opacity="0.75"/><path d="M358.25 384.74V395.48M356.05 384.74H360.45M356.05 395.48H360.45" stroke="#1f4fa3" stroke-width="0.9" fill="none" opacity="0.75"/><path d="M369.88 392.97V400.85M367.68 392.97H372.07M367.68 400.85H372.07" stroke="#1f4fa3" stroke-width="0.9" fill="none" opacity="0.75"/><path d="M381.5 391.54V406.22M379.3 391.54H383.7M379.3 406.22H383.7" stroke="#1f4fa3" stroke-width="0.9" fill="none" opacity="0.75"/><path d="M428 398.7V407.65M425.8 398.7H430.2M425.8 407.65H430.2" stroke="#1f4fa3" stroke-width="0.9" fill="none" opacity="0.75"/><path d="M521 403.36V408.37M518.8 403.36H523.2M518.8 408.37H523.2" stroke="#1f4fa3" stroke-width="0.9" fill="none" opacity="0.75"/><path d="M337.32 322.09 L338.88 348.94 L342.75 371.85 L346.62 387.6 L358.25 400.49 L369.88 404.79 L381.5 407.29 L428 407.65 L521 406.94" stroke="#7a60a6" stroke-width="1.2" fill="none" stroke-linejoin="round"/><path d="M337.32 331.04 L338.88 347.15 L342.75 368.63 L346.62 382.23 L358.25 398.7 L369.88 403.18 L381.5 405.5 L428 407.29 L521 408.37" stroke="#5caa68" stroke-width="1.2" fill="none" stroke-linejoin="round"/><path d="M337.32 263.02 L338.88 317.08 L342.75 350.37 L346.62 360.4 L358.25 387.6 L369.88 399.06 L381.5 403.71 L428 406.94 L521 407.65" stroke="#dc4a52" stroke-width="1.2" fill="none" stroke-linejoin="round"/><path d="M337.32 271.61 L338.88 293.63 L342.75 341.06 L346.62 361.83 L358.25 390.11 L369.88 396.91 L381.5 399.6 L428 403.89 L521 406.22" stroke="#3f5590" stroke-width="1.2" fill="none" stroke-linejoin="round"/><path d="M337.32 325.29L340.52 319.69L334.12 319.69Z" fill="#6a3d9f"/><path d="M338.88 352.14L342.07 346.54L335.68 346.54Z" fill="#6a3d9f"/><path d="M342.75 375.05L345.95 369.45L339.55 369.45Z" fill="#6a3d9f"/><path d="M346.62 390.8L349.82 385.2L343.43 385.2Z" fill="#6a3d9f"/><path d="M358.25 403.69L361.45 398.09L355.05 398.09Z" fill="#6a3d9f"/><path d="M369.88 407.99L373.07 402.39L366.68 402.39Z" fill="#6a3d9f"/><path d="M381.5 410.49L384.7 404.89L378.3 404.89Z" fill="#6a3d9f"/><path d="M428 410.85L431.2 405.25L424.8 405.25Z" fill="#6a3d9f"/><path d="M521 410.14L524.2 404.54L517.8 404.54Z" fill="#6a3d9f"/><path d="M337.32 327.84L340.52 333.44L334.12 333.44Z" fill="#3aa845"/><path d="M338.88 343.95L342.07 349.55L335.68 349.55Z" fill="#3aa845"/><path d="M342.75 365.43L345.95 371.03L339.55 371.03Z" fill="#3aa845"/><path d="M346.62 379.03L349.82 384.63L343.43 384.63Z" fill="#3aa845"/><path d="M358.25 395.5L361.45 401.1L355.05 401.1Z" fill="#3aa845"/><path d="M369.88 399.98L373.07 405.58L366.68 405.58Z" fill="#3aa845"/><path d="M381.5 402.3L384.7 407.9L378.3 407.9Z" fill="#3aa845"/><path d="M428 404.09L431.2 409.69L424.8 409.69Z" fill="#3aa845"/><path d="M521 405.17L524.2 410.77L517.8 410.77Z" fill="#3aa845"/><rect x="334.52" y="260.22" width="5.6" height="5.6" fill="#e3262b"/><rect x="336.07" y="314.28" width="5.6" height="5.6" fill="#e3262b"/><rect x="339.95" y="347.57" width="5.6" height="5.6" fill="#e3262b"/><rect x="343.82" y="357.6" width="5.6" height="5.6" fill="#e3262b"/><rect x="355.45" y="384.8" width="5.6" height="5.6" fill="#e3262b"/><rect x="367.07" y="396.26" width="5.6" height="5.6" fill="#e3262b"/><rect x="378.7" y="400.91" width="5.6" height="5.6" fill="#e3262b"/><rect x="425.2" y="404.14" width="5.6" height="5.6" fill="#e3262b"/><rect x="518.2" y="404.85" width="5.6" height="5.6" fill="#e3262b"/><circle cx="337.32" cy="271.61" r="2.85" fill="#1f4fa3"/><circle cx="338.88" cy="293.63" r="2.85" fill="#1f4fa3"/><circle cx="342.75" cy="341.06" r="2.85" fill="#1f4fa3"/><circle cx="346.62" cy="361.83" r="2.85" fill="#1f4fa3"/><circle cx="358.25" cy="390.11" r="2.85" fill="#1f4fa3"/><circle cx="369.88" cy="396.91" r="2.85" fill="#1f4fa3"/><circle cx="381.5" cy="399.6" r="2.85" fill="#1f4fa3"/><circle cx="428" cy="403.89" r="2.85" fill="#1f4fa3"/><circle cx="521" cy="406.22" r="2.85" fill="#1f4fa3"/></g>
<text x="450.5" y="440" text-anchor="middle" style="font-family:'Liberation Serif',serif;stroke:#333;stroke-width:0.12px;font-size:11px" fill="#2b2b2b">Time (min)</text>
<text transform="translate(298.5,302) rotate(-90)" text-anchor="middle" style="font-family:'Liberation Serif',serif;stroke:#333;stroke-width:0.12px;font-size:11.4px" fill="#2b2b2b">Concentration (<tspan style="font-style:italic">μ</tspan>g/mL)</text>
<path d="M335.5 459H354.5" stroke="#30343c" stroke-width="1.1"/>
<circle cx="345" cy="459" r="3.14" fill="#1f4fa3"/>
<text x="361.5" y="462.2" style="font-family:'Liberation Serif',serif;stroke:#333;stroke-width:0.12px;font-size:11px" fill="#2b2b2b">CG</text>
<path d="M335.5 474.5H354.5" stroke="#dc4a52" stroke-width="1.1"/>
<rect x="341.92" y="471.42" width="6.16" height="6.16" fill="#e3262b"/>
<text x="361.5" y="477.7" style="font-family:'Liberation Serif',serif;stroke:#333;stroke-width:0.12px;font-size:11px" fill="#2b2b2b">LG</text>
<path d="M450.5 459H469.5" stroke="#5caa68" stroke-width="1.1"/>
<path d="M460 455.48L463.52 461.64L456.48 461.64Z" fill="#3aa845"/>
<text x="476.5" y="462.2" style="font-family:'Liberation Serif',serif;stroke:#333;stroke-width:0.12px;font-size:11px" fill="#2b2b2b">MG</text>
<path d="M450.5 474.5H469.5" stroke="#7a60a6" stroke-width="1.1"/>
<path d="M460 478.02L463.52 471.86L456.48 471.86Z" fill="#6a3d9f"/>
<text x="476.5" y="477.7" style="font-family:'Liberation Serif',serif;stroke:#333;stroke-width:0.12px;font-size:11px" fill="#2b2b2b">HG</text>
<text x="429.3" y="497.3" text-anchor="middle" style="font-family:'Liberation Serif',serif;stroke:#333;stroke-width:0.12px;font-size:11px" fill="#2b2b2b">(d)</text>
<path d="M41.3 515.3V730.4M37.3 730.4H273.3" stroke="#5c5c5c" stroke-width="1.45" fill="none"/>
<path d="M37.3 730.4H41.3 M37.3 676.74H41.3 M37.3 623.08H41.3 M37.3 569.42H41.3 M37.3 515.76H41.3 M41.3 730.4V734.6 M79.97 730.4V734.6 M118.63 730.4V734.6 M157.3 730.4V734.6 M195.96 730.4V734.6 M234.62 730.4V734.6 M273.29 730.4V734.6" stroke="#5c5c5c" stroke-width="1.2" fill="none"/>
<g style="font-family:'Liberation Serif',serif;stroke:#333;stroke-width:0.12px;font-size:10.8px" fill="#2b2b2b"><text x="33.3" y="733.3" text-anchor="end">0</text><text x="33.3" y="679.64" text-anchor="end">200</text><text x="33.3" y="625.98" text-anchor="end">400</text><text x="33.3" y="572.32" text-anchor="end">600</text><text x="33.3" y="518.66" text-anchor="end">800</text><text x="41.3" y="745.6" text-anchor="middle">0</text><text x="79.97" y="745.6" text-anchor="middle">50</text><text x="118.63" y="745.6" text-anchor="middle">100</text><text x="157.3" y="745.6" text-anchor="middle">150</text><text x="195.96" y="745.6" text-anchor="middle">200</text><text x="234.62" y="745.6" text-anchor="middle">250</text><text x="273.29" y="745.6" text-anchor="middle">300</text></g>
<g><path d="M43.62 612.35V655.28M41.42 612.35H45.82M41.42 655.28H45.82" stroke="#6a3d9f" stroke-width="0.9" fill="none" opacity="0.75"/><path d="M45.17 639.18V676.74M42.97 639.18H47.37M42.97 676.74H47.37" stroke="#6a3d9f" stroke-width="0.9" fill="none" opacity="0.75"/><path d="M49.03 682.11V703.57M46.83 682.11H51.23M46.83 703.57H51.23" stroke="#6a3d9f" stroke-width="0.9" fill="none" opacity="0.75"/><path d="M52.9 695.52V715.11M50.7 695.52H55.1M50.7 715.11H55.1" stroke="#6a3d9f" stroke-width="0.9" fill="none" opacity="0.75"/><path d="M64.5 714.3V726.11M62.3 714.3H66.7M62.3 726.11H66.7" stroke="#6a3d9f" stroke-width="0.9" fill="none" opacity="0.75"/><path d="M76.1 721.81V727.18M73.9 721.81H78.3M73.9 727.18H78.3" stroke="#6a3d9f" stroke-width="0.9" fill="none" opacity="0.75"/><path d="M87.7 725.57V728.79M85.5 725.57H89.9M85.5 728.79H89.9" stroke="#6a3d9f" stroke-width="0.9" fill="none" opacity="0.75"/><path d="M134.1 727.99V729.6M131.9 727.99H136.3M131.9 729.6H136.3" stroke="#6a3d9f" stroke-width="0.9" fill="none" opacity="0.75"/><path d="M226.89 729.06V730.13M224.69 729.06H229.09M224.69 730.13H229.09" stroke="#6a3d9f" stroke-width="0.9" fill="none" opacity="0.75"/><path d="M43.62 586.86V657.96M41.42 586.86H45.82M41.42 657.96H45.82" stroke="#3aa845" stroke-width="0.9" fill="none" opacity="0.75"/><path d="M45.17 631.13V668.69M42.97 631.13H47.37M42.97 668.69H47.37" stroke="#3aa845" stroke-width="0.9" fill="none" opacity="0.75"/><path d="M49.03 660.64V692.84M46.83 660.64H51.23M46.83 692.84H51.23" stroke="#3aa845" stroke-width="0.9" fill="none" opacity="0.75"/><path d="M52.9 687.47V706.25M50.7 687.47H55.1M50.7 706.25H55.1" stroke="#3aa845" stroke-width="0.9" fill="none" opacity="0.75"/><path d="M64.5 714.3V723.69M62.3 714.3H66.7M62.3 723.69H66.7" stroke="#3aa845" stroke-width="0.9" fill="none" opacity="0.75"/><path d="M76.1 718.33V725.57M73.9 718.33H78.3M73.9 725.57H78.3" stroke="#3aa845" stroke-width="0.9" fill="none" opacity="0.75"/><path d="M87.7 720.74V725.57M85.5 720.74H89.9M85.5 725.57H89.9" stroke="#3aa845" stroke-width="0.9" fill="none" opacity="0.75"/><path d="M134.1 726.11V728.79M131.9 726.11H136.3M131.9 728.79H136.3" stroke="#3aa845" stroke-width="0.9" fill="none" opacity="0.75"/><path d="M226.89 729.06V730.13M224.69 729.06H229.09M224.69 730.13H229.09" stroke="#3aa845" stroke-width="0.9" fill="none" opacity="0.75"/><path d="M43.62 571.03V631.13M41.42 571.03H45.82M41.42 631.13H45.82" stroke="#e3262b" stroke-width="0.9" fill="none" opacity="0.75"/><path d="M45.4 617.71V649.91M43.2 617.71H47.6M43.2 649.91H47.6" stroke="#e3262b" stroke-width="0.9" fill="none" opacity="0.75"/><path d="M47.49 660.64V687.47M45.29 660.64H49.69M45.29 687.47H49.69" stroke="#e3262b" stroke-width="0.9" fill="none" opacity="0.75"/><path d="M49.03 656.35V692.84M46.83 656.35H51.23M46.83 692.84H51.23" stroke="#e3262b" stroke-width="0.9" fill="none" opacity="0.75"/><path d="M52.9 671.37V690.15M50.7 671.37H55.1M50.7 690.15H55.1" stroke="#e3262b" stroke-width="0.9" fill="none" opacity="0.75"/><path d="M64.5 695.52V716.99M62.3 695.52H66.7M62.3 716.99H66.7" stroke="#e3262b" stroke-width="0.9" fill="none" opacity="0.75"/><path d="M76.1 715.64V723.69M73.9 715.64H78.3M73.9 723.69H78.3" stroke="#e3262b" stroke-width="0.9" fill="none" opacity="0.75"/><path d="M87.7 722.35V727.72M85.5 722.35H89.9M85.5 727.72H89.9" stroke="#e3262b" stroke-width="0.9" fill="none" opacity="0.75"/><path d="M134.1 728.25V730.13M131.9 728.25H136.3M131.9 730.13H136.3" stroke="#e3262b" stroke-width="0.9" fill="none" opacity="0.75"/><path d="M226.89 729.06V730.13M224.69 729.06H229.09M224.69 730.13H229.09" stroke="#e3262b" stroke-width="0.9" fill="none" opacity="0.75"/><path d="M44.01 589.81V636.5M41.81 589.81H46.21M41.81 636.5H46.21" stroke="#1f4fa3" stroke-width="0.9" fill="none" opacity="0.75"/><path d="M45.4 609.66V644.54M43.2 609.66H47.6M43.2 644.54H47.6" stroke="#1f4fa3" stroke-width="0.9" fill="none" opacity="0.75"/><path d="M49.03 652.59V682.11M46.83 652.59H51.23M46.83 682.11H51.23" stroke="#1f4fa3" stroke-width="0.9" fill="none" opacity="0.75"/><path d="M52.9 671.37V692.84M50.7 671.37H55.1M50.7 692.84H55.1" stroke="#1f4fa3" stroke-width="0.9" fill="none" opacity="0.75"/><path d="M64.5 698.2V714.3M62.3 698.2H66.7M62.3 714.3H66.7" stroke="#1f4fa3" stroke-width="0.9" fill="none" opacity="0.75"/><path d="M76.1 708.94V721.01M73.9 708.94H78.3M73.9 721.01H78.3" stroke="#1f4fa3" stroke-width="0.9" fill="none" opacity="0.75"/><path d="M87.7 711.35V725.03M85.5 711.35H89.9M85.5 725.03H89.9" stroke="#1f4fa3" stroke-width="0.9" fill="none" opacity="0.75"/><path d="M134.1 721.81V729.06M131.9 721.81H136.3M131.9 729.06H136.3" stroke="#1f4fa3" stroke-width="0.9" fill="none" opacity="0.75"/><path d="M226.89 728.25V730.13M224.69 728.25H229.09M224.69 730.13H229.09" stroke="#1f4fa3" stroke-width="0.9" fill="none" opacity="0.75"/><path d="M43.62 633.81 L45.17 657.96 L49.03 693.11 L52.9 704.91 L64.5 720.2 L76.1 724.5 L87.7 727.18 L134.1 728.79 L226.89 729.6" stroke="#7a60a6" stroke-width="1.2" fill="none" stroke-linejoin="round"/><path d="M43.62 623.08 L45.17 649.91 L49.03 676.74 L52.9 697.13 L64.5 719.13 L76.1 721.81 L87.7 723.16 L134.1 727.45 L226.89 729.6" stroke="#5caa68" stroke-width="1.2" fill="none" stroke-linejoin="round"/><path d="M43.62 601.62 L45.4 634.35 L47.49 676.47 L49.03 677.54 L52.9 680.76 L64.5 705.98 L76.1 719.94 L87.7 725.03 L134.1 729.6 L226.89 729.6" stroke="#dc4a52" stroke-width="1.2" fill="none" stroke-linejoin="round"/><path d="M44.01 617.18 L45.4 626.57 L49.03 667.62 L52.9 682.64 L64.5 707.06 L76.1 715.11 L87.7 719.4 L134.1 726.11 L226.89 729.33" stroke="#3f5590" stroke-width="1.2" fill="none" stroke-linejoin="round"/><path d="M43.62 637.01L46.82 631.41L40.42 631.41Z" fill="#6a3d9f"/><path d="M45.17 661.16L48.37 655.56L41.97 655.56Z" fill="#6a3d9f"/><path d="M49.03 696.31L52.23 690.71L45.83 690.71Z" fill="#6a3d9f"/><path d="M52.9 708.11L56.1 702.51L49.7 702.51Z" fill="#6a3d9f"/><path d="M64.5 723.4L67.7 717.8L61.3 717.8Z" fill="#6a3d9f"/><path d="M76.1 727.7L79.3 722.1L72.9 722.1Z" fill="#6a3d9f"/><path d="M87.7 730.38L90.9 724.78L84.5 724.78Z" fill="#6a3d9f"/><path d="M134.1 731.99L137.3 726.39L130.9 726.39Z" fill="#6a3d9f"/><path d="M226.89 732.8L230.09 727.2L223.69 727.2Z" fill="#6a3d9f"/><path d="M43.62 619.88L46.82 625.48L40.42 625.48Z" fill="#3aa845"/><path d="M45.17 646.71L48.37 652.31L41.97 652.31Z" fill="#3aa845"/><path d="M49.03 673.54L52.23 679.14L45.83 679.14Z" fill="#3aa845"/><path d="M52.9 693.93L56.1 699.53L49.7 699.53Z" fill="#3aa845"/><path d="M64.5 715.93L67.7 721.53L61.3 721.53Z" fill="#3aa845"/><path d="M76.1 718.61L79.3 724.21L72.9 724.21Z" fill="#3aa845"/><path d="M87.7 719.96L90.9 725.56L84.5 725.56Z" fill="#3aa845"/><path d="M134.1 724.25L137.3 729.85L130.9 729.85Z" fill="#3aa845"/><path d="M226.89 726.4L230.09 732L223.69 732Z" fill="#3aa845"/><rect x="40.82" y="598.82" width="5.6" height="5.6" fill="#e3262b"/><rect x="42.6" y="631.55" width="5.6" height="5.6" fill="#e3262b"/><rect x="44.69" y="673.67" width="5.6" height="5.6" fill="#e3262b"/><rect x="46.23" y="674.74" width="5.6" height="5.6" fill="#e3262b"/><rect x="50.1" y="677.96" width="5.6" height="5.6" fill="#e3262b"/><rect x="61.7" y="703.18" width="5.6" height="5.6" fill="#e3262b"/><rect x="73.3" y="717.14" width="5.6" height="5.6" fill="#e3262b"/><rect x="84.9" y="722.23" width="5.6" height="5.6" fill="#e3262b"/><rect x="131.3" y="726.8" width="5.6" height="5.6" fill="#e3262b"/><rect x="224.09" y="726.8" width="5.6" height="5.6" fill="#e3262b"/><circle cx="44.01" cy="617.18" r="2.85" fill="#1f4fa3"/><circle cx="45.4" cy="626.57" r="2.85" fill="#1f4fa3"/><circle cx="49.03" cy="667.62" r="2.85" fill="#1f4fa3"/><circle cx="52.9" cy="682.64" r="2.85" fill="#1f4fa3"/><circle cx="64.5" cy="707.06" r="2.85" fill="#1f4fa3"/><circle cx="76.1" cy="715.11" r="2.85" fill="#1f4fa3"/><circle cx="87.7" cy="719.4" r="2.85" fill="#1f4fa3"/><circle cx="134.1" cy="726.11" r="2.85" fill="#1f4fa3"/><circle cx="226.89" cy="729.33" r="2.85" fill="#1f4fa3"/></g>
<text x="157.6" y="760.3" text-anchor="middle" style="font-family:'Liberation Serif',serif;stroke:#333;stroke-width:0.12px;font-size:11px" fill="#2b2b2b">Time (min)</text>
<text transform="translate(11.5,622.9) rotate(-90)" text-anchor="middle" style="font-family:'Liberation Serif',serif;stroke:#333;stroke-width:0.12px;font-size:11.4px" fill="#2b2b2b">Concentration (<tspan style="font-style:italic">μ</tspan>g/mL)</text>
<path d="M41 782H60" stroke="#30343c" stroke-width="1.1"/>
<circle cx="50.5" cy="782" r="3.14" fill="#1f4fa3"/>
<text x="67" y="785.2" style="font-family:'Liberation Serif',serif;stroke:#333;stroke-width:0.12px;font-size:11px" fill="#2b2b2b">CG</text>
<path d="M41 796.8H60" stroke="#dc4a52" stroke-width="1.1"/>
<rect x="47.42" y="793.72" width="6.16" height="6.16" fill="#e3262b"/>
<text x="67" y="800" style="font-family:'Liberation Serif',serif;stroke:#333;stroke-width:0.12px;font-size:11px" fill="#2b2b2b">LG</text>
<path d="M157 782H176" stroke="#5caa68" stroke-width="1.1"/>
<path d="M166.5 778.48L170.02 784.64L162.98 784.64Z" fill="#3aa845"/>
<text x="183" y="785.2" style="font-family:'Liberation Serif',serif;stroke:#333;stroke-width:0.12px;font-size:11px" fill="#2b2b2b">MG</text>
<path d="M157 796.8H176" stroke="#7a60a6" stroke-width="1.1"/>
<path d="M166.5 800.32L170.02 794.16L162.98 794.16Z" fill="#6a3d9f"/>
<text x="183" y="800" style="font-family:'Liberation Serif',serif;stroke:#333;stroke-width:0.12px;font-size:11px" fill="#2b2b2b">HG</text>
<text x="139.4" y="819.8" text-anchor="middle" style="font-family:'Liberation Serif',serif;stroke:#333;stroke-width:0.12px;font-size:11px" fill="#2b2b2b">(e)</text>
<path d="M334.4 517.4V733M330 733H565.8" stroke="#5c5c5c" stroke-width="1.45" fill="none"/>
<path d="M330.4 733H334.4 M330.4 679.1H334.4 M330.4 625.2H334.4 M330.4 571.3H334.4 M330.4 517.4H334.4 M334.4 733V737.2 M363.32 733V737.2 M392.24 733V737.2 M421.16 733V737.2 M450.08 733V737.2 M479 733V737.2 M507.92 733V737.2 M536.84 733V737.2 M565.76 733V737.2" stroke="#5c5c5c" stroke-width="1.2" fill="none"/>
<g style="font-family:'Liberation Serif',serif;stroke:#333;stroke-width:0.12px;font-size:10.8px" fill="#2b2b2b"><text x="326.4" y="735.9" text-anchor="end">0</text><text x="326.4" y="682" text-anchor="end">50</text><text x="326.4" y="628.1" text-anchor="end">100</text><text x="326.4" y="574.2" text-anchor="end">150</text><text x="326.4" y="520.3" text-anchor="end">200</text><text x="334.4" y="748.2" text-anchor="middle">0</text><text x="363.32" y="748.2" text-anchor="middle">50</text><text x="392.24" y="748.2" text-anchor="middle">100</text><text x="421.16" y="748.2" text-anchor="middle">150</text><text x="450.08" y="748.2" text-anchor="middle">200</text><text x="479" y="748.2" text-anchor="middle">250</text><text x="507.92" y="748.2" text-anchor="middle">300</text><text x="536.84" y="748.2" text-anchor="middle">350</text><text x="565.76" y="748.2" text-anchor="middle">400</text></g>
<g><path d="M334.98 641.37V668.32M332.78 641.37H337.18M332.78 668.32H337.18" stroke="#6a3d9f" stroke-width="0.9" fill="none" opacity="0.75"/><path d="M337.29 644.6V670.48M335.09 644.6H339.49M335.09 670.48H339.49" stroke="#6a3d9f" stroke-width="0.9" fill="none" opacity="0.75"/><path d="M340.18 644.6V672.63M337.98 644.6H342.38M337.98 672.63H342.38" stroke="#6a3d9f" stroke-width="0.9" fill="none" opacity="0.75"/><path d="M343.08 655.38V681.26M340.88 655.38H345.28M340.88 681.26H345.28" stroke="#6a3d9f" stroke-width="0.9" fill="none" opacity="0.75"/><path d="M351.75 666.16V692.04M349.55 666.16H353.95M349.55 692.04H353.95" stroke="#6a3d9f" stroke-width="0.9" fill="none" opacity="0.75"/><path d="M360.43 673.71V697.43M358.23 673.71H362.63M358.23 697.43H362.63" stroke="#6a3d9f" stroke-width="0.9" fill="none" opacity="0.75"/><path d="M369.1 676.94V702.82M366.9 676.94H371.3M366.9 702.82H371.3" stroke="#6a3d9f" stroke-width="0.9" fill="none" opacity="0.75"/><path d="M403.81 689.88V707.13M401.61 689.88H406.01M401.61 707.13H406.01" stroke="#6a3d9f" stroke-width="0.9" fill="none" opacity="0.75"/><path d="M473.22 709.28V720.06M471.02 709.28H475.42M471.02 720.06H475.42" stroke="#6a3d9f" stroke-width="0.9" fill="none" opacity="0.75"/><path d="M542.62 721.14V725.45M540.42 721.14H544.82M540.42 725.45H544.82" stroke="#6a3d9f" stroke-width="0.9" fill="none" opacity="0.75"/><path d="M334.98 633.82V662.93M332.78 633.82H337.18M332.78 662.93H337.18" stroke="#3aa845" stroke-width="0.9" fill="none" opacity="0.75"/><path d="M337.29 646.76V673.71M335.09 646.76H339.49M335.09 673.71H339.49" stroke="#3aa845" stroke-width="0.9" fill="none" opacity="0.75"/><path d="M340.18 655.38V679.1M337.98 655.38H342.38M337.98 679.1H342.38" stroke="#3aa845" stroke-width="0.9" fill="none" opacity="0.75"/><path d="M343.08 657.54V681.26M340.88 657.54H345.28M340.88 681.26H345.28" stroke="#3aa845" stroke-width="0.9" fill="none" opacity="0.75"/><path d="M351.75 666.16V684.49M349.55 666.16H353.95M349.55 684.49H353.95" stroke="#3aa845" stroke-width="0.9" fill="none" opacity="0.75"/><path d="M360.43 660.77V684.49M358.23 660.77H362.63M358.23 684.49H362.63" stroke="#3aa845" stroke-width="0.9" fill="none" opacity="0.75"/><path d="M369.1 668.32V692.04M366.9 668.32H371.3M366.9 692.04H371.3" stroke="#3aa845" stroke-width="0.9" fill="none" opacity="0.75"/><path d="M403.81 684.49V702.82M401.61 684.49H406.01M401.61 702.82H406.01" stroke="#3aa845" stroke-width="0.9" fill="none" opacity="0.75"/><path d="M473.22 708.21V718.99M471.02 708.21H475.42M471.02 718.99H475.42" stroke="#3aa845" stroke-width="0.9" fill="none" opacity="0.75"/><path d="M542.62 718.99V724.38M540.42 718.99H544.82M540.42 724.38H544.82" stroke="#3aa845" stroke-width="0.9" fill="none" opacity="0.75"/><path d="M334.98 614.42V646.76M332.78 614.42H337.18M332.78 646.76H337.18" stroke="#e3262b" stroke-width="0.9" fill="none" opacity="0.75"/><path d="M337.29 625.2V657.54M335.09 625.2H339.49M335.09 657.54H339.49" stroke="#e3262b" stroke-width="0.9" fill="none" opacity="0.75"/><path d="M340.18 630.59V662.93M337.98 630.59H342.38M337.98 662.93H342.38" stroke="#e3262b" stroke-width="0.9" fill="none" opacity="0.75"/><path d="M343.08 630.59V700.66M340.88 630.59H345.28M340.88 700.66H345.28" stroke="#e3262b" stroke-width="0.9" fill="none" opacity="0.75"/><path d="M352.33 582.3V605.8M350.13 582.3H354.53M350.13 605.8H354.53" stroke="#e3262b" stroke-width="0.9" fill="none" opacity="0.75"/><path d="M361.01 617.01V648.92M358.81 617.01H363.21M358.81 648.92H363.21" stroke="#e3262b" stroke-width="0.9" fill="none" opacity="0.75"/><path d="M369.1 638.14V666.16M366.9 638.14H371.3M366.9 666.16H371.3" stroke="#e3262b" stroke-width="0.9" fill="none" opacity="0.75"/><path d="M403.81 654.85V715M401.61 654.85H406.01M401.61 715H406.01" stroke="#e3262b" stroke-width="0.9" fill="none" opacity="0.75"/><path d="M473.22 713.6V724.05M471.02 713.6H475.42M471.02 724.05H475.42" stroke="#e3262b" stroke-width="0.9" fill="none" opacity="0.75"/><path d="M542.62 723.3V728.15M540.42 723.3H544.82M540.42 728.15H544.82" stroke="#e3262b" stroke-width="0.9" fill="none" opacity="0.75"/><path d="M335.9 609.03V646.76M333.7 609.03H338.1M333.7 646.76H338.1" stroke="#1f4fa3" stroke-width="0.9" fill="none" opacity="0.75"/><path d="M337.29 559.98V668.32M335.09 559.98H339.49M335.09 668.32H339.49" stroke="#1f4fa3" stroke-width="0.9" fill="none" opacity="0.75"/><path d="M340.18 602.99V657.54M337.98 602.99H342.38M337.98 657.54H342.38" stroke="#1f4fa3" stroke-width="0.9" fill="none" opacity="0.75"/><path d="M343.08 596.63V668.32M340.88 596.63H345.28M340.88 668.32H345.28" stroke="#1f4fa3" stroke-width="0.9" fill="none" opacity="0.75"/><path d="M352.33 619.38V689.66M350.13 619.38H354.53M350.13 689.66H354.53" stroke="#1f4fa3" stroke-width="0.9" fill="none" opacity="0.75"/><path d="M361.01 630.59V679.1M358.81 630.59H363.21M358.81 679.1H363.21" stroke="#1f4fa3" stroke-width="0.9" fill="none" opacity="0.75"/><path d="M369.1 631.67V700.66M366.9 631.67H371.3M366.9 700.66H371.3" stroke="#1f4fa3" stroke-width="0.9" fill="none" opacity="0.75"/><path d="M403.81 665.09V698.5M401.61 665.09H406.01M401.61 698.5H406.01" stroke="#1f4fa3" stroke-width="0.9" fill="none" opacity="0.75"/><path d="M473.22 701.74V720.06M471.02 701.74H475.42M471.02 720.06H475.42" stroke="#1f4fa3" stroke-width="0.9" fill="none" opacity="0.75"/><path d="M542.62 719.2V727.61M540.42 719.2H544.82M540.42 727.61H544.82" stroke="#1f4fa3" stroke-width="0.9" fill="none" opacity="0.75"/><path d="M334.98 655.38 L337.29 657.54 L340.18 658.62 L343.08 668.64 L351.75 678.78 L360.43 686.86 L369.1 689.99 L403.81 698.29 L473.22 714.46 L542.62 723.3" stroke="#7a60a6" stroke-width="1.2" fill="none" stroke-linejoin="round"/><path d="M334.98 647.84 L337.29 660.24 L340.18 667.78 L343.08 669.4 L351.75 675.65 L360.43 672.85 L369.1 680.29 L403.81 693.55 L473.22 713.6 L542.62 722.22" stroke="#5caa68" stroke-width="1.2" fill="none" stroke-linejoin="round"/><path d="M334.98 631.88 L337.29 640.51 L340.18 645.57 L343.08 664.65 L352.33 593.94 L361.01 633.39 L369.1 651.93 L403.81 685.03 L473.22 718.77 L542.62 725.99" stroke="#dc4a52" stroke-width="1.2" fill="none" stroke-linejoin="round"/><path d="M335.9 628.76 L337.29 613.88 L340.18 631.67 L343.08 633.39 L352.33 650.21 L361.01 652.69 L369.1 666.16 L403.81 681.58 L473.22 711.66 L542.62 724.05" stroke="#3f5590" stroke-width="1.2" fill="none" stroke-linejoin="round"/><path d="M334.98 658.26L337.86 653.22L332.1 653.22Z" fill="#6a3d9f"/><path d="M337.29 660.42L340.17 655.38L334.41 655.38Z" fill="#6a3d9f"/><path d="M340.18 661.5L343.06 656.46L337.3 656.46Z" fill="#6a3d9f"/><path d="M343.08 671.52L345.96 666.48L340.2 666.48Z" fill="#6a3d9f"/><path d="M351.75 681.66L354.63 676.62L348.87 676.62Z" fill="#6a3d9f"/><path d="M360.43 689.74L363.31 684.7L357.55 684.7Z" fill="#6a3d9f"/><path d="M369.1 692.87L371.98 687.83L366.22 687.83Z" fill="#6a3d9f"/><path d="M403.81 701.17L406.69 696.13L400.93 696.13Z" fill="#6a3d9f"/><path d="M473.22 717.34L476.1 712.3L470.34 712.3Z" fill="#6a3d9f"/><path d="M542.62 726.18L545.5 721.14L539.74 721.14Z" fill="#6a3d9f"/><path d="M334.98 644.96L337.86 650L332.1 650Z" fill="#3aa845"/><path d="M337.29 657.36L340.17 662.39L334.41 662.39Z" fill="#3aa845"/><path d="M340.18 664.9L343.06 669.94L337.3 669.94Z" fill="#3aa845"/><path d="M343.08 666.52L345.96 671.56L340.2 671.56Z" fill="#3aa845"/><path d="M351.75 672.77L354.63 677.81L348.87 677.81Z" fill="#3aa845"/><path d="M360.43 669.97L363.31 675.01L357.55 675.01Z" fill="#3aa845"/><path d="M369.1 677.41L371.98 682.45L366.22 682.45Z" fill="#3aa845"/><path d="M403.81 690.67L406.69 695.71L400.93 695.71Z" fill="#3aa845"/><path d="M473.22 710.72L476.1 715.76L470.34 715.76Z" fill="#3aa845"/><path d="M542.62 719.34L545.5 724.38L539.74 724.38Z" fill="#3aa845"/><rect x="332.46" y="629.36" width="5.04" height="5.04" fill="#e3262b"/><rect x="334.77" y="637.99" width="5.04" height="5.04" fill="#e3262b"/><rect x="337.66" y="643.05" width="5.04" height="5.04" fill="#e3262b"/><rect x="340.56" y="662.13" width="5.04" height="5.04" fill="#e3262b"/><rect x="349.81" y="591.42" width="5.04" height="5.04" fill="#e3262b"/><rect x="358.49" y="630.87" width="5.04" height="5.04" fill="#e3262b"/><rect x="366.58" y="649.41" width="5.04" height="5.04" fill="#e3262b"/><rect x="401.29" y="682.51" width="5.04" height="5.04" fill="#e3262b"/><rect x="470.7" y="716.25" width="5.04" height="5.04" fill="#e3262b"/><rect x="540.1" y="723.47" width="5.04" height="5.04" fill="#e3262b"/><circle cx="335.9" cy="628.76" r="2.56" fill="#1f4fa3"/><circle cx="337.29" cy="613.88" r="2.56" fill="#1f4fa3"/><circle cx="340.18" cy="631.67" r="2.56" fill="#1f4fa3"/><circle cx="343.08" cy="633.39" r="2.56" fill="#1f4fa3"/><circle cx="352.33" cy="650.21" r="2.56" fill="#1f4fa3"/><circle cx="361.01" cy="652.69" r="2.56" fill="#1f4fa3"/><circle cx="369.1" cy="666.16" r="2.56" fill="#1f4fa3"/><circle cx="403.81" cy="681.58" r="2.56" fill="#1f4fa3"/><circle cx="473.22" cy="711.66" r="2.56" fill="#1f4fa3"/><circle cx="542.62" cy="724.05" r="2.56" fill="#1f4fa3"/></g>
<text x="450.5" y="762" text-anchor="middle" style="font-family:'Liberation Serif',serif;stroke:#333;stroke-width:0.12px;font-size:11px" fill="#2b2b2b">Time (min)</text>
<text transform="translate(302,625.2) rotate(-90)" text-anchor="middle" style="font-family:'Liberation Serif',serif;stroke:#333;stroke-width:0.12px;font-size:11.4px" fill="#2b2b2b">Concentration (<tspan style="font-style:italic">μ</tspan>g/mL)</text>
<path d="M335.5 782H354.5" stroke="#30343c" stroke-width="1.1"/>
<circle cx="345" cy="782" r="3.14" fill="#1f4fa3"/>
<text x="361.5" y="785.2" style="font-family:'Liberation Serif',serif;stroke:#333;stroke-width:0.12px;font-size:11px" fill="#2b2b2b">CG</text>
<path d="M335.5 797H354.5" stroke="#dc4a52" stroke-width="1.1"/>
<rect x="341.92" y="793.92" width="6.16" height="6.16" fill="#e3262b"/>
<text x="361.5" y="800.2" style="font-family:'Liberation Serif',serif;stroke:#333;stroke-width:0.12px;font-size:11px" fill="#2b2b2b">LG</text>
<path d="M450.5 782H469.5" stroke="#5caa68" stroke-width="1.1"/>
<path d="M460 778.48L463.52 784.64L456.48 784.64Z" fill="#3aa845"/>
<text x="476.5" y="785.2" style="font-family:'Liberation Serif',serif;stroke:#333;stroke-width:0.12px;font-size:11px" fill="#2b2b2b">MG</text>
<path d="M450.5 797H469.5" stroke="#7a60a6" stroke-width="1.1"/>
<path d="M460 800.52L463.52 794.36L456.48 794.36Z" fill="#6a3d9f"/>
<text x="476.5" y="800.2" style="font-family:'Liberation Serif',serif;stroke:#333;stroke-width:0.12px;font-size:11px" fill="#2b2b2b">HG</text>
<text x="431.8" y="819.5" text-anchor="middle" style="font-family:'Liberation Serif',serif;stroke:#333;stroke-width:0.12px;font-size:11px" fill="#2b2b2b">(f)</text>
<path d="M188.5 838.4V1053.5M184.6 1053.5H419.6" stroke="#5c5c5c" stroke-width="1.45" fill="none"/>
<path d="M184.5 1053.5H188.5 M184.5 1003.6H188.5 M184.5 947.7H188.5 M184.5 891.1H188.5 M184.5 838.4H188.5 M263.55 1053.5V1057.7 M341.6 1053.5V1057.7 M419.65 1053.5V1057.7" stroke="#5c5c5c" stroke-width="1.2" fill="none"/>
<g style="font-family:'Liberation Serif',serif;stroke:#333;stroke-width:0.12px;font-size:10.8px" fill="#2b2b2b"><text x="180.5" y="1056.4" text-anchor="end">0</text><text x="180.5" y="1006.5" text-anchor="end">200</text><text x="180.5" y="950.6" text-anchor="end">400</text><text x="180.5" y="894" text-anchor="end">600</text><text x="180.5" y="841.3" text-anchor="end">800</text><text x="263.55" y="1069.6" text-anchor="middle">50</text><text x="341.6" y="1069.6" text-anchor="middle">100</text><text x="419.65" y="1069.6" text-anchor="middle">150</text></g>
<g><path d="M194.55 927.53V967.92M192.35 927.53H196.75M192.35 967.92H196.75" stroke="#6a3d9f" stroke-width="0.9" fill="none" opacity="0.75"/><path d="M197.52 965.23V994.85M195.32 965.23H199.72M195.32 994.85H199.72" stroke="#6a3d9f" stroke-width="0.9" fill="none" opacity="0.75"/><path d="M205.48 994.85V1011.01M203.28 994.85H207.68M203.28 1011.01H207.68" stroke="#6a3d9f" stroke-width="0.9" fill="none" opacity="0.75"/><path d="M213.13 1002.93V1027.17M210.93 1002.93H215.33M210.93 1027.17H215.33" stroke="#6a3d9f" stroke-width="0.9" fill="none" opacity="0.75"/><path d="M236.23 1020.44V1040.9M234.03 1020.44H238.43M234.03 1040.9H238.43" stroke="#6a3d9f" stroke-width="0.9" fill="none" opacity="0.75"/><path d="M259.34 1034.71V1043.33M257.14 1034.71H261.54M257.14 1043.33H261.54" stroke="#6a3d9f" stroke-width="0.9" fill="none" opacity="0.75"/><path d="M283.22 1044.67V1052.75M281.02 1044.67H285.42M281.02 1052.75H285.42" stroke="#6a3d9f" stroke-width="0.9" fill="none" opacity="0.75"/><path d="M375.94 1049.52V1053.29M373.74 1049.52H378.14M373.74 1053.29H378.14" stroke="#6a3d9f" stroke-width="0.9" fill="none" opacity="0.75"/><path d="M194.55 916.76V962.54M192.35 916.76H196.75M192.35 962.54H196.75" stroke="#3aa845" stroke-width="0.9" fill="none" opacity="0.75"/><path d="M197.52 959.84V989.47M195.32 959.84H199.72M195.32 989.47H199.72" stroke="#3aa845" stroke-width="0.9" fill="none" opacity="0.75"/><path d="M205.48 973.31V1000.24M203.28 973.31H207.68M203.28 1000.24H207.68" stroke="#3aa845" stroke-width="0.9" fill="none" opacity="0.75"/><path d="M213.13 986.77V1011.01M210.93 986.77H215.33M210.93 1011.01H215.33" stroke="#3aa845" stroke-width="0.9" fill="none" opacity="0.75"/><path d="M236.23 1019.09V1035.25M234.03 1019.09H238.43M234.03 1035.25H238.43" stroke="#3aa845" stroke-width="0.9" fill="none" opacity="0.75"/><path d="M259.34 1023.13V1035.25M257.14 1023.13H261.54M257.14 1035.25H261.54" stroke="#3aa845" stroke-width="0.9" fill="none" opacity="0.75"/><path d="M283.22 1030.94V1040.63M281.02 1030.94H285.42M281.02 1040.63H285.42" stroke="#3aa845" stroke-width="0.9" fill="none" opacity="0.75"/><path d="M375.94 1043.33V1050.06M373.74 1043.33H378.14M373.74 1050.06H378.14" stroke="#3aa845" stroke-width="0.9" fill="none" opacity="0.75"/><path d="M194.55 897.64V957.15M192.35 897.64H196.75M192.35 957.15H196.75" stroke="#e3262b" stroke-width="0.9" fill="none" opacity="0.75"/><path d="M197.52 907.06V995.39M195.32 907.06H199.72M195.32 995.39H199.72" stroke="#e3262b" stroke-width="0.9" fill="none" opacity="0.75"/><path d="M205.48 967.92V994.85M203.28 967.92H207.68M203.28 994.85H207.68" stroke="#e3262b" stroke-width="0.9" fill="none" opacity="0.75"/><path d="M213.13 976V1000.24M210.93 976H215.33M210.93 1000.24H215.33" stroke="#e3262b" stroke-width="0.9" fill="none" opacity="0.75"/><path d="M236.23 1002.93V1024.48M234.03 1002.93H238.43M234.03 1024.48H238.43" stroke="#e3262b" stroke-width="0.9" fill="none" opacity="0.75"/><path d="M259.34 1024.48V1035.25M257.14 1024.48H261.54M257.14 1035.25H261.54" stroke="#e3262b" stroke-width="0.9" fill="none" opacity="0.75"/><path d="M283.22 1034.71V1043.33M281.02 1034.71H285.42M281.02 1043.33H285.42" stroke="#e3262b" stroke-width="0.9" fill="none" opacity="0.75"/><path d="M375.94 1051.95V1054.1M373.74 1051.95H378.14M373.74 1054.1H378.14" stroke="#e3262b" stroke-width="0.9" fill="none" opacity="0.75"/><path d="M194.55 910.29V954.46M192.35 910.29H196.75M192.35 954.46H196.75" stroke="#1f4fa3" stroke-width="0.9" fill="none" opacity="0.75"/><path d="M197.52 919.45V962.54M195.32 919.45H199.72M195.32 962.54H199.72" stroke="#1f4fa3" stroke-width="0.9" fill="none" opacity="0.75"/><path d="M205.48 955.54V992.16M203.28 955.54H207.68M203.28 992.16H207.68" stroke="#1f4fa3" stroke-width="0.9" fill="none" opacity="0.75"/><path d="M213.13 966.85V1008.32M210.93 966.85H215.33M210.93 1008.32H215.33" stroke="#1f4fa3" stroke-width="0.9" fill="none" opacity="0.75"/><path d="M236.23 1001.32V1027.17M234.03 1001.32H238.43M234.03 1027.17H238.43" stroke="#1f4fa3" stroke-width="0.9" fill="none" opacity="0.75"/><path d="M259.34 1006.7V1032.56M257.14 1006.7H261.54M257.14 1032.56H261.54" stroke="#1f4fa3" stroke-width="0.9" fill="none" opacity="0.75"/><path d="M283.22 1022.59V1039.29M281.02 1022.59H285.42M281.02 1039.29H285.42" stroke="#1f4fa3" stroke-width="0.9" fill="none" opacity="0.75"/><path d="M375.94 1036.6V1050.06M373.74 1036.6H378.14M373.74 1050.06H378.14" stroke="#1f4fa3" stroke-width="0.9" fill="none" opacity="0.75"/><path d="M194.55 947.46 L197.52 980.58 L205.48 1002.93 L213.13 1015.32 L236.23 1030.67 L259.34 1039.02 L283.22 1048.71 L375.94 1051.41" stroke="#7a60a6" stroke-width="1.2" fill="none" stroke-linejoin="round"/><path d="M194.55 939.11 L197.52 974.66 L205.48 986.24 L213.13 999.16 L236.23 1027.17 L259.34 1029.06 L283.22 1035.79 L375.94 1046.56" stroke="#5caa68" stroke-width="1.2" fill="none" stroke-linejoin="round"/><path d="M194.55 927.53 L197.52 950.15 L205.48 981.39 L213.13 987.58 L236.23 1013.7 L259.34 1029.86 L283.22 1039.02 L375.94 1053.29" stroke="#dc4a52" stroke-width="1.2" fill="none" stroke-linejoin="round"/><path d="M194.55 932.38 L197.52 940.99 L205.48 974.66 L213.13 987.58 L236.23 1013.97 L259.34 1019.9 L283.22 1030.94 L375.94 1043.33" stroke="#3f5590" stroke-width="1.2" fill="none" stroke-linejoin="round"/><path d="M194.55 950.66L197.75 945.06L191.35 945.06Z" fill="#6a3d9f"/><path d="M197.52 983.78L200.72 978.18L194.32 978.18Z" fill="#6a3d9f"/><path d="M205.48 1006.13L208.68 1000.53L202.28 1000.53Z" fill="#6a3d9f"/><path d="M213.13 1018.52L216.33 1012.92L209.93 1012.92Z" fill="#6a3d9f"/><path d="M236.23 1033.87L239.43 1028.27L233.03 1028.27Z" fill="#6a3d9f"/><path d="M259.34 1042.22L262.54 1036.62L256.14 1036.62Z" fill="#6a3d9f"/><path d="M283.22 1051.91L286.42 1046.31L280.02 1046.31Z" fill="#6a3d9f"/><path d="M375.94 1054.61L379.14 1049.01L372.74 1049.01Z" fill="#6a3d9f"/><path d="M194.55 935.91L197.75 941.51L191.35 941.51Z" fill="#3aa845"/><path d="M197.52 971.46L200.72 977.06L194.32 977.06Z" fill="#3aa845"/><path d="M205.48 983.04L208.68 988.64L202.28 988.64Z" fill="#3aa845"/><path d="M213.13 995.96L216.33 1001.56L209.93 1001.56Z" fill="#3aa845"/><path d="M236.23 1023.97L239.43 1029.57L233.03 1029.57Z" fill="#3aa845"/><path d="M259.34 1025.86L262.54 1031.46L256.14 1031.46Z" fill="#3aa845"/><path d="M283.22 1032.59L286.42 1038.19L280.02 1038.19Z" fill="#3aa845"/><path d="M375.94 1043.36L379.14 1048.96L372.74 1048.96Z" fill="#3aa845"/><rect x="191.75" y="924.73" width="5.6" height="5.6" fill="#e3262b"/><rect x="194.72" y="947.35" width="5.6" height="5.6" fill="#e3262b"/><rect x="202.68" y="978.59" width="5.6" height="5.6" fill="#e3262b"/><rect x="210.33" y="984.78" width="5.6" height="5.6" fill="#e3262b"/><rect x="233.43" y="1010.9" width="5.6" height="5.6" fill="#e3262b"/><rect x="256.54" y="1027.06" width="5.6" height="5.6" fill="#e3262b"/><rect x="280.42" y="1036.22" width="5.6" height="5.6" fill="#e3262b"/><rect x="373.14" y="1050.49" width="5.6" height="5.6" fill="#e3262b"/><circle cx="194.55" cy="932.38" r="2.85" fill="#1f4fa3"/><circle cx="197.52" cy="940.99" r="2.85" fill="#1f4fa3"/><circle cx="205.48" cy="974.66" r="2.85" fill="#1f4fa3"/><circle cx="213.13" cy="987.58" r="2.85" fill="#1f4fa3"/><circle cx="236.23" cy="1013.97" r="2.85" fill="#1f4fa3"/><circle cx="259.34" cy="1019.9" r="2.85" fill="#1f4fa3"/><circle cx="283.22" cy="1030.94" r="2.85" fill="#1f4fa3"/><circle cx="375.94" cy="1043.33" r="2.85" fill="#1f4fa3"/></g>
<text x="302.2" y="1084.4" text-anchor="middle" style="font-family:'Liberation Serif',serif;stroke:#333;stroke-width:0.12px;font-size:11px" fill="#2b2b2b">Time (min)</text>
<text transform="translate(157.5,946) rotate(-90)" text-anchor="middle" style="font-family:'Liberation Serif',serif;stroke:#333;stroke-width:0.12px;font-size:11.4px" fill="#2b2b2b">Concentration (<tspan style="font-style:italic">μ</tspan>g/mL)</text>
<path d="M189.4 1105.3H208.4" stroke="#30343c" stroke-width="1.1"/>
<circle cx="198.9" cy="1105.3" r="3.14" fill="#1f4fa3"/>
<text x="215.4" y="1108.5" style="font-family:'Liberation Serif',serif;stroke:#333;stroke-width:0.12px;font-size:11px" fill="#2b2b2b">CG</text>
<path d="M189.4 1120.3H208.4" stroke="#dc4a52" stroke-width="1.1"/>
<rect x="195.82" y="1117.22" width="6.16" height="6.16" fill="#e3262b"/>
<text x="215.4" y="1123.5" style="font-family:'Liberation Serif',serif;stroke:#333;stroke-width:0.12px;font-size:11px" fill="#2b2b2b">LG</text>
<path d="M305 1105.3H324" stroke="#5caa68" stroke-width="1.1"/>
<path d="M314.5 1101.78L318.02 1107.94L310.98 1107.94Z" fill="#3aa845"/>
<text x="331" y="1108.5" style="font-family:'Liberation Serif',serif;stroke:#333;stroke-width:0.12px;font-size:11px" fill="#2b2b2b">MG</text>
<path d="M305 1120.3H324" stroke="#7a60a6" stroke-width="1.1"/>
<path d="M314.5 1123.82L318.02 1117.66L310.98 1117.66Z" fill="#6a3d9f"/>
<text x="331" y="1123.5" style="font-family:'Liberation Serif',serif;stroke:#333;stroke-width:0.12px;font-size:11px" fill="#2b2b2b">HG</text>
</svg></body></html>
